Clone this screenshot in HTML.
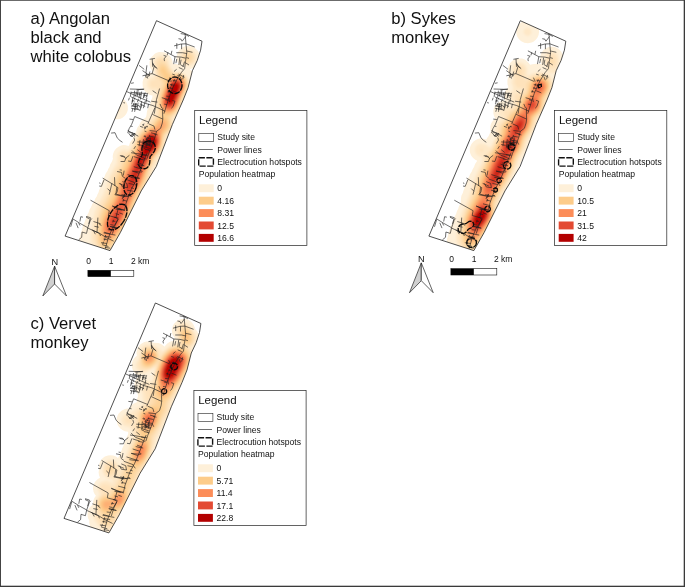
<!DOCTYPE html>
<html lang="en"><head><meta charset="utf-8"><title>Primate population heatmaps and electrocution hotspots</title>
<style>html,body{margin:0;padding:0;background:#fff}svg{display:block}text{font-family:"Liberation Sans", Arial, Helvetica, sans-serif;fill:#111}
.t{font-size:16.62px}.lg{font-size:11.5px}.li{font-size:8.6px}.sb{font-size:8.5px}.n{font-size:9.2px}
</style></head><body>
<svg width="685" height="587" viewBox="0 0 685 587">
<rect x="0" y="0" width="685" height="587" fill="#fff"/>
<defs>
<path id="site" d="M156.5 20.7 L202 41.2 L200.6 50.2 L197.3 60.4 L192.4 70.7 L188.1 87.7 L183.2 100 L172.4 124.5 L156.3 166.5 L141.2 190.9 L120.3 232.6 L110 250.6 L65.1 236.1 Z"/>
<clipPath id="siteclip"><use href="#site"/></clipPath>
<path id="plines" d="M185.1 33.9 L186 44 L186.8 52.7 L185.5 61.5 L184.6 68.7M180.7 33.6 L185.1 34.3 L189 36.5M178.5 38.7 L181.1 39.2 L182 41.2M185.7 36.5 L182.2 41.2M174.1 45.9 L181.1 44 L186 43.8 L194.7 47M176.8 43.1 L176.8 48.8M181.6 44 L181.6 49.2M176.3 52.7 L182.5 52.7 L186.8 53.6M186.8 51 L192.5 52.3M164.1 50.8 L175 56.7 L181.1 57.1 L185.7 58.2M171.9 50.8 L171.1 54.5M168 52.3 L167.1 55.4M163.6 55.4 L166.2 56.2 L164.1 58.9 L164.5 61.1M175 56.7 L173.7 64.1M176.8 58.9 L175.9 63.2M179.8 57.6 L178.9 65M181.1 59.7 L180.3 64.1M184.6 61.5 L182.9 66.8M186.4 57.6 L189 58.4M185.5 62.8 L189 65M149.6 59.3 L154.9 58.4M152.2 58.9 L152.7 66.8M152.7 64.1 L156.6 68.1M184.6 68.7 L181.5 72.3 L176.6 80.2 L173.1 87.2 L170.5 93.4 L167.9 101.2 L165.7 108.2 L163.9 113.7M174 71.5 L176.6 69.3M178.4 74.1 L184.5 77.2M183.7 75 L182.8 79.3M169.6 77.6 L171.4 81.5M172.3 90.7 L177.5 92.9M161.8 97.7 L167.9 99.5M172.3 100.4 L174.9 101.2 L173.1 106.5 L171.4 108.2M168.8 97.7 L169.6 102.1M180.2 64.5 L183.7 66.6M178.8 67.5 L182.8 69.3M174.9 75 L172.3 74.1M180.2 76.7 L181.5 80.2M170.5 81.5 L152.1 73.6M152.1 73.6 L154.3 66.2 L152.6 62.7M154.3 66.2 L157.4 68.8M152.1 73.6 L142.5 75.8M142.5 70.6 L149.9 75.8M146.9 65.3 L146 72.3 L147.7 78.5M139 65.3 L144.2 69.3M149.9 71.5 L148.6 76.7M145.1 75 L146.4 78M159.6 88.5 L156.5 99.5 L154.3 113.7M152.6 90.7 L156.5 93.4M131.1 96.9 L144.2 103 L153 105.6 L165.3 111.3M136.4 89.9 L144.2 89M131.1 92.5 L146.9 93.5M132.9 97.7 L132 102.1M136.4 91.6 L135.5 96.4M139.9 92.5 L139 97.7M144.2 93.4 L143.4 98.2M146.9 97.7 L146 102.6M132.9 103.9 L136.4 104.7M131.1 108.2 L139.9 110M136.4 103 L134.6 111.8M141.6 104.7 L139.9 110.9M148.6 103.9 L147.7 108.2M151.2 101.2 L157.4 102.1M160 103.9 L161.8 108.2M129.8 89 L143.8 89.4M126.8 91.6 L139.9 97.7 L150.4 102.1M131.1 91.6 L130.3 96.9M134.6 90.7 L133.8 97.7M138.1 89.9 L137.3 96M141.6 91.6 L140.3 99.5M145.2 92.5 L143.8 97.7M147.8 92.9 L146 97.7M136 93.8 L141.6 94.7M143.4 95.1 L147.8 96M129.4 97.7 L128.5 100.4M132 100.4 L134.6 101.2M135.5 103 L134.6 110M138.1 102.6 L137.3 108.2M131.1 106.1 L137.3 106.5M132.9 108.2 L132 111.8M139.9 103.9 L145.2 106.5M141.6 101.2 L140.8 108.2M145.2 101.2 L143.4 108.2M131.1 83.3 L133.8 82.8M123.3 102.6 L125 103M154.9 107.7 L151.8 114.7 L148.8 121.7 L147.9 123.9M134.7 116.5 L148.8 122.2M134.7 116.5 L131.7 124.3 L129.1 128.7 L127.7 133.1M129.5 119.1 L133 119.5M130.8 126.1 L132.6 126.5M152.3 114.3 L162.8 119.1 L162.3 123 L160.6 128.3 L156.6 131.3M148.8 123.9 L154 126.1 L154.9 129.6M162.8 107.7 L162.6 113 L162.8 119.1M156.6 131.3 L149.6 130.6M156.6 131.3 L154.9 137.5 L152.3 144.5 L148.8 153.2 L147 158.7M127.7 130.5 L138.3 136.2M128.6 133.1 L131.2 136.6M132.1 132.2 L134.7 136.6M133.9 137.5 L134.7 140.1 L132.6 143.6M137.4 141.9 L153.1 142.7M140 140.1 L139.1 146.2M143.5 139.2 L142.6 147.1M147 138.4 L146.1 147.1M150.5 137.5 L149.6 146.2M137.4 144.5 L141.8 145.4M144.4 144.5 L151.4 146.2M153.1 141 L154.9 144.5M154 134 L157.5 134.9M111.1 133.1 L115 132.7 L117.2 137.9 L119.9 140.5 L122.5 142.3M132.1 150.6 L136.5 155 L143.5 157.6M137.4 149.7 L140.9 152.4M119.9 155.7 L123.4 155.9 L126 158.7M133.9 148.9 L135.6 146.2M147.9 149.7 L150.5 150.6M147.3 152.7 L144.7 158.8 L142.1 165.8 L139 173.7 L135.5 181.6 L131.1 189.5 L128.5 196.5 L125.9 203.7M131.1 152.7 L147.8 155.3M129.4 155.3 L125.9 158 L124.6 161.5 L120.6 161.5M121.1 156.2 L125 157.1M132.9 156.2 L131.1 161.5 L128.1 161M133.8 156.6 L140.8 158.8M138.1 162.8 L142.5 164.5M133.8 166.7 L140.8 168.9M132.5 171.1 L139 173.3M127.6 174.6 L137.3 177.7M125 179 L134.6 182.5M122.4 181.6 L126.8 183.4 L127.6 187.7 L122.4 186.9 L120.6 183.4M118.9 183.4 L125 186M117.1 171.5 L121.5 172.4 L122.4 176.3 L125 178.1M119.7 169.8 L121.9 170.2M124.1 170.7 L123.3 175.5M102.7 178.1 L113.6 184.7 L118 187.7 L117.1 192.1 L114.9 194.7 L125 196.5 L131.1 195.6M104 179.9 L101.4 186.4 L99.2 186M99.2 182.9 L100.5 183.4M114.5 177.2 L114.9 186M111.9 183.4 L109.2 194.7M107.5 188.6 L110.1 191.2M124.6 193.9 L122.4 198.2M133.8 182.5 L136.4 186M131.1 187.7 L133.8 188.6M143.4 158 L146.5 159.3M141.6 165 L144.3 165.8M139.9 170.2 L142.5 171.5M137.3 177.2 L139.9 178.5M126 203.7 L124.6 209.9 L118.9 209M118.1 209 L115.9 217.7 L118.1 219.1 L115 225.6 L112.4 233.7M112.4 205.9 L118.9 209 L125.1 210.7M90.5 200.2 L109.3 210.7 L108.4 215.5 L116.3 217.7M119.4 212.9 L122.9 214.2M115.9 194.1 L124.6 196.3 L122 198.9M116.8 187.1 L115.9 194.1M129 195.4 L131.6 196.3M86.1 216.4 L90.5 217.7 L88.7 223.9M110.2 226.5 L117.6 228.2M112.3 206.2 L121.1 209.3M113.2 226.3 L108.4 237.7 L105.3 248.7M109.7 226.3 L117.2 228.1M103.6 232.9 L115.4 235.1M102.3 244.7 L108.4 246.5M104.9 247.4 L110.2 248.2M118 219.3 L112.8 228.1M72.9 218.9 L79.9 223.3 L87.8 227.7 L90.4 220.2 L91.8 218.5M87.8 227.7 L86.5 233.4 L82.1 232 L81.7 237.3 L78.6 239.9M72.9 219.3 L70.7 226.8M80.8 216.7 L79.9 221.5M80.8 216.7 L83 217.2M86.1 217.2 L89.6 218.9M76 222.8 L78.2 228.1M78.6 222.8 L79.9 225.5M87.8 228.1 L99.6 233.4 L106.6 237.7 L113.7 241.2M97.9 217.6 L97 232.5M93.5 221.5 L100.5 223.7M94.4 226.3 L98.8 227.2M91.8 229.9 L99.6 233.4 L100.5 236M98.8 223.7 L101.4 225.5M93.5 230.7 L95.3 234.2M179.5 76 L177.4 75.4M176.3 81 L172.7 80.2M173.7 81.8 L174.5 79.2M174.2 85.3 L170 84.5M171.2 86.1 L172 83.5M172.7 88.7 L169.4 87.8M169.8 89.3 L170.6 86.7M171.1 92.2 L167.5 91.2M168.1 92.8 L168.9 90.2M169.5 96.5 L166.2 96.1M168.2 100.5 L165.2 99.7M166.9 104.6 L164.1 104.1M155.7 134 L151.1 132.8M154.7 137.2 L148.9 136.1M153.4 141 L148.9 140.6M149.5 142 L150.3 139.4M151.9 145.2 L145.3 143.6M147.3 145.5 L148.1 142.9M149.9 148.5 L143.2 146.5M148.9 150 L145 149.3M146.2 155.5 L142.2 154.8M144.4 160 L139.2 159M142.2 165.6 L136.8 164.2M139.7 171.9 L132.2 171.1M139.7 171.9 L141.8 172.2M137 178.2 L130.5 177.4M137 178.2 L139 178.5M133.8 184.6 L128.6 183.4M130.6 190.8 L127.2 190.2M130.6 190.8 L132.9 191.2M128.5 196.6 L121.5 194.5M124 196.7 L124.8 194.1M126.9 201.1 L122.6 200.1M123 201.6 L123.8 199M125 205.3 L119.2 203.8M125 205.3 L126.7 205.8M122 210 L115.6 209.1M119.1 214.6 L115.6 213.7M117.1 217.8 L114.1 217.3M117.1 217.8 L118.6 218.1M115.4 221.4 L112.3 221M112.8 222.4 L113.6 219.8M113.7 225.2 L110.3 224.6M111.6 230.1 L107.8 229.7M110 233.9 L104.1 232.2M108.8 236.9 L104.8 236.2M104.9 237.6 L105.7 235M108.8 236.9 L111.2 237.2M107.8 239.9 L103.5 239.1M104.3 240.6 L105.1 238M106.8 243.5 L101 242.7M102.7 244.3 L103.5 241.7M146 127.2 L144.6 126.7M146.4 131.7 L144.5 131M144.5 129.3 L145.5 126.9M146.6 127.3 L147.2 125.8M145.8 128.3 L144.1 127.6M143.2 125.7 L144 123.6M143.8 125.2 L142.2 124.6M147.9 126.9 L146.3 126.3M143.2 127.4 L140.1 126.3M133 136.6 L130.3 135.6M132 135.4 L132.7 133.5M134.3 135.6 L131.5 134.5M134 134.9 L134.7 133.1M132 133.2 L128.6 131.9M132.5 136.2 L130.1 135.3M135.5 133.9 L133.6 133.2M147.7 140 L145.7 139.2M146 136.4 L144.3 135.7M149.8 144.9 L148.3 144.3M143.2 146.5 L144.3 143.6M150.8 143.5 L148.8 142.7M149.8 141 L147.4 140.1M148.2 139 L146.1 138.2M148.4 138.8 L149.8 135.1M145.9 137.1 L143.7 136.3M146.3 141.7 L144 140.9M147.5 143.6 L145.5 142.8M149.6 138.3 L146.8 137.3M148.4 144.1 L146.5 143.4M145 148.5 L142.5 147.5M131.5 103.9 L133 100.3M135.3 106.4 L131.6 105M139.5 106 L136.3 104.7M134.2 99.7 L134.9 97.9M139.5 107.3 L140 105.8M137.4 102.1 L138.6 98.8M138.8 109.2 L136 108.1M133.2 105.3 L134.3 102.7" fill="none" stroke="#1e1e1e" stroke-width="0.64" stroke-linecap="butt" stroke-linejoin="miter"/>
<filter id="hb" x="-5%" y="-5%" width="110%" height="110%"><feGaussianBlur stdDeviation="0.9"/></filter>
</defs>
<g id="panel-a">
<text class="t" x="30.5" y="24.1">a) Angolan</text>
<text class="t" x="30.5" y="43">black and</text>
<text class="t" x="30.5" y="61.9">white colobus</text>
<g transform="translate(0 0)">
<g clip-path="url(#siteclip)"><path d="M192.5 46.6 195 48.1 197.9 51 198.9 53 199 53.6 199.3 54 199.5 55.6 199.9 56.5 199.9 58.5 199.5 59.4 199.3 61 199 61.4 198.9 62 197.9 64 195 66.9 193.5 67.9 192.9 68 192.5 68.4 191.4 68.5 191 68.9 189.5 69 191 70.3 193 71.4 194.5 72.5 196.2 74.5 197.1 76.5 197.5 78.5 197.6 80.5 197.1 82.5 196.5 84 195.8 87.5 194.8 90 193.5 92 193.4 93 192.8 94.5 191.5 96.4 190.9 98.5 189.5 101 188.9 103.5 188 105.3 187.3 108.5 186.5 110 185.8 113 184 116.6 183.2 119 181.5 122.2 180.7 127 180 128.9 179.3 132 178.7 133.5 177.9 135 176.7 136.5 175.5 137.6 172.7 139.5 172 140.4 170 145.2 169.8 146.5 169.3 148 168 150 167.3 152.5 166.8 153.5 165.8 155 164.5 156.4 163.3 159 162 160.8 161.2 163 160 164.9 159.4 167 158.7 168.5 157 170.8 155.8 173.5 154.5 175.3 153.9 177 152.5 179.3 152.3 180.5 152 180.9 151.9 181.5 150.9 183.5 150.5 183.9 149.3 187.5 148.4 189 147.5 189.9 146.8 192 145 194.8 144.3 197 143.5 198.3 142.9 201 141.5 203.9 141.3 205.5 141 206 140.8 207 139.5 209.3 139.4 210.5 139 211.3 138.9 212 137.8 214 136.5 215.7 136.4 216.5 135.8 218 134.8 219.5 134 220.4 133.3 222.5 133 222.9 132.8 223.5 131.5 225.3 130.8 227.5 129.5 229.5 128.4 233 127 235.3 126.9 236.5 126.5 237 126.4 237.5 125 240 124.7 241.5 123.5 244 123.3 245.5 122.5 247.5 122 249.5 121.8 251 120.8 253.5 119.8 255 118.5 256.3 117.5 257.2 115.5 258.4 112.5 259.3 109.5 259.3 107 258.7 105 257.8 104 257 102.5 256.8 101.9 256.5 101 256.4 99.5 255.8 98 254.9 97 254 95.5 253.8 93 252.9 89.5 250.5 87.5 250.2 85.5 249.4 83 247.6 81.2 245.5 80.2 243.5 79.6 241 79.5 239 79.7 237 80.5 234.7 81.3 231.5 82 229.6 82.7 226.5 83.2 225 84.5 222.4 85.2 220 86.5 217.5 87.2 215 88.5 212.7 89.6 209.5 91 207.3 92.3 204 94 201.6 95.3 198.5 97 196 97.2 195 98.5 192.6 99.2 190 100 188.4 100.7 185.5 102 182.7 102.9 179.5 103.3 178.5 104.5 176.8 105.7 173.5 107.5 171.1 108.2 169 109.5 167 110.2 164.5 112 161.5 113 158.5 112.7 157.5 112.7 156 113.2 153.5 113.5 153 113.7 152 114.6 150.5 116.2 148.5 118.5 146.7 119.1 146.5 119.5 146.2 121 145.6 123.5 145.1 126 145.2 126.5 145.5 128 145.7 128.5 146 129 145.6 129.1 145 129.5 144.5 129.6 143.5 130 143.1 130.1 142.5 130.5 142.1 130.7 141.5 132.5 139.5 133.6 137 134.5 135.8 135.1 133.5 136 132 136.5 130.5 136.6 129.5 137.7 127 139 125.4 140.7 122 141.9 120.5 144 118.7 145.2 118 146 117 146.5 115.2 146.8 112.5 147.2 110.5 147.8 109 149 107.1 150.5 103.4 150.8 101.5 151 101.1 151.2 100 152 98.6 152.6 95.5 150 94.9 148 93.9 145.7 92 144.1 90 143.1 88 143 87.1 142.7 86.5 142.6 82 143.1 80 144.1 78 146 75.7 148 74.1 149 73.6 149.5 73.5 150 73.1 152.5 72.5 152.5 71.3 151.1 69.5 151 69 150.6 68.5 150.5 68 150.1 67.5 150 66.4 149.6 65.5 149.6 61.5 150.6 58.5 151.6 57 154.5 54.1 156 53.1 159 52.1 163.5 52.2 163.9 52.5 165 52.6 165.5 53 166 53.1 166.5 53.5 167 53.6 168.5 54.7 170.3 56.5 171.3 58 171.5 58.7 171.8 59 172 60.1 172.3 60.5 172.5 62.5 173 64.1 175.5 63.9 178.5 64.5 178.5 63.8 177.7 62.5 177.5 61.7 177.1 61 177 59.9 176.6 59 176.6 57.5 176.6 56 177 55.1 177.1 54 177.5 53.3 177.7 52.5 178.6 51 182 47.6 182.6 47.5 183 47.1 183.6 47 184 46.6 185 46.5 185.5 46.1 191 46.2 191.4 46.5ZM114.5 96.7 118.5 96.7 120.5 97.3 122.5 98.3 124.5 99.9 126.2 102 127.2 104 127.8 106 127.8 110 127.2 112 126.2 114 124.6 116 122.5 117.7 120.5 118.7 118.5 119.3 114.5 119.3 112.5 118.7 110.5 117.7 108.5 116.1 106.8 114 105.8 112 105.2 110 105.2 106 105.8 104 106.8 102 108.4 100 110.5 98.3 112.5 97.3Z" fill="#fef0d9" fill-rule="evenodd"/><g filter="url(#hb)"><path d="M188 49 190 49.2 191.5 49.7 193 50.5 194.2 51.5 195.4 53 196.2 54.5 196.6 56 196.7 57.5 196.6 59 196.2 60.5 195.4 62 194.2 63.5 193 64.5 191.5 65.3 190 65.8 188.5 66 187 65.9 185.5 65.6 184 64.9 182.5 63.8 181.3 62.5 180.4 61 179.9 59.5 179.7 58 179.8 56 180.2 54.5 181 53 182 51.7 183 50.8 184.5 49.8 186 49.3ZM163.5 55.8 166 57.1 167.8 59 168.8 61 169.4 64 170.8 67.5 171.5 68.5 174 71.2 175 71.7 178.5 71.8 182 72.7 183.5 73.4 185 74.4 187.1 76.5 188.1 78 188.8 79.5 190.3 85 190.4 87.5 189.8 90 188.9 92.5 185.7 99.5 183.3 106.5 182.1 109 180.5 111.6 176 115.8 174 118.9 173.6 120.5 173.7 125 173.2 128 172.7 129.5 171.6 131.5 167.3 136.5 166.8 141.5 165.7 145.5 164.8 148 162.8 152 158.5 158.6 156 163.5 155 166 153.5 168.9 151.7 173.5 150.6 177 147.9 183.5 140.8 197.5 136.7 208.5 134.6 213.5 121.4 240 117.5 246.7 114.7 250 113 251.5 110.5 252.9 108 253.6 105.5 253.7 103.5 253.3 99.5 251.7 97 250 92 244 91.1 242.5 90.7 241 90.5 239 91.1 232 91.8 228.5 92.7 220.5 94.7 212 96.9 206 100.8 199 103.2 194 104.9 189.5 107.6 181 109.6 176 114.5 166.5 116.3 163.5 116.5 162.5 116.9 156.5 117.5 154.5 118.2 153 119 151.9 120 151 122 149.9 124.5 149.6 127.5 150.1 129 149.5 130 148.8 130.9 147.5 131.8 145.5 135.5 138.6 138.9 131.5 140.1 129.5 143 125.8 147.8 122 154.6 112.5 154.8 111 154.6 107 154.6 102 154.9 100 156.2 94.5 156.1 92.5 155.5 91.5 151.5 90.7 150 89.9 148.9 89 147.8 87.5 147.1 86 146.9 84.5 146.9 83 147.5 81 148.5 79.4 150.5 77.8 153.5 76.7 154.3 75.5 154.9 74 155.1 72.5 154.6 69.5 154.2 68 153.3 66 153 64 153.2 61.5 154.1 59.5 155.7 57.5 158 56.1 160.5 55.5 162 55.5ZM116 104 117.5 104.1 119 104.8 120 106 120.5 107.5 120.4 109 119.7 110.5 118.5 111.5 117 112 115.5 111.9 114 111.2 113 110 112.5 108.5 112.6 107 113.3 105.5 114.5 104.5Z" fill="#fee8c7" fill-rule="evenodd"/><path d="M186 51 187.5 50.7 189 50.7 191.5 51.5 192.5 52.2 193.5 53.2 194.3 54.5 194.7 55.5 195 58 194.7 59.5 194.3 60.5 192.8 62.5 191.5 63.5 190.5 63.9 189 64.3 187.5 64.3 186.1 64 185 63.5 184 62.9 183 61.9 182.3 61 181.7 59.5 181.4 57 181.7 55.5 182.1 54.5 183.6 52.5 184.5 51.8ZM163 57.7 164.6 58.5 166.1 60 166.7 61 167.6 63.5 170 68.5 173 72.1 174.5 72.7 178 72.7 181 73.3 184 74.8 186.3 77 187.7 79.5 188.2 81.5 188.4 83 188.3 85.5 187.2 90.5 180.4 107 177 112.5 173.8 116 172.6 117.5 172.2 119 172 120.5 172.2 123.5 172.1 126 171.3 129 169.8 131.5 166 135.3 165.2 136.5 164.4 140 163.8 145.5 162.3 150 161.5 151.5 160.5 153 156.6 157.5 154 162.4 152.1 167 150.5 172.2 149.7 175.5 147.7 181 145.2 186.5 139.4 197.5 134.2 211 124.6 231 122 235.8 119.2 240 116.1 244 114.2 247 111.9 249.5 110 250.9 108 251.6 105.5 251.7 103 251.2 101 250.4 99.5 249.5 98 248.2 96.6 246.5 95.3 244 93.5 237.5 94.1 230.5 94.8 225.5 95.7 221.5 99.3 208.5 101.6 203.5 104.6 198.5 107 193.5 108.9 187.5 110.2 182 112 177 115 170.7 116.5 168.5 118.5 166 119 165 119.2 163.5 119.1 160.5 119.6 156.5 120.2 155 121 154 122.5 153 124 152.6 126 152.8 127 152.5 129.5 151 130.5 150 131.9 148 138.3 135 141.3 130 143.5 127.7 151.3 122 154 118.6 157 113.5 157.3 112 157.5 108.5 156.6 104.5 156.4 102 156.8 98 158 93.5 157.8 89.5 157.1 88 156.5 87.6 154.5 88 153.5 88 152.5 87.8 151.5 87.2 150.8 86.5 150.2 85.5 150 84.5 150 83.5 150.5 82 151.5 80.8 153 80.1 155 79.9 155.6 79 156.5 73.5 155.5 66.5 154.9 64 155 62.5 155.5 61 156.1 60 157 59 158.5 58 160.5 57.4 162 57.5Z" fill="#fee2bb" fill-rule="evenodd"/><path d="M187 52.5 189 52.4 190.8 53 191.5 53.5 192.4 54.5 193.2 56 193.4 58 192.7 60 191.5 61.5 189.5 62.5 187.5 62.6 185.5 61.9 184 60.5 183.1 58.5 183.1 56.5 184 54.5 185.5 53.1ZM162.5 59.8 163.7 60.5 164.5 61.4 167.5 65.9 169.3 69.5 172 72.8 173.5 73.4 177.5 73.3 180 73.8 183 75.1 184.3 76 185.3 77 186.8 79.5 187.5 82 187.5 84.5 186.8 88 181.5 100.5 180.8 103 178.8 108 175.8 112.5 171.9 116.5 170.9 118 170.8 119.5 171.2 124.5 171 126.5 170.4 128.5 169.2 130.5 167.4 132.5 165.5 134.3 164.4 136 163.5 139.3 162.6 145.5 161.3 149.5 159.8 152 156 156.3 153.9 159.5 149.9 169 149.3 171 148.6 175 146.9 180.5 144.6 185.5 138.2 197.5 136.3 202 133.1 210.5 128.5 220.5 123.6 230.5 120.5 235.7 117.5 239.4 114.9 243 113.1 246 111.5 247.9 109.5 249.4 107.5 250.1 105.5 250.1 103 249.6 100.5 248.4 98.4 246.5 97.2 244.5 96.5 241.5 96.2 231 96.5 226 97.6 220.5 98.7 216.5 100.7 210.5 102.8 206 106.9 199 109 194.5 110.9 188.5 111.6 185.5 113.3 180 115.8 174.5 118 170.5 120.6 166.5 121.7 163.5 122.4 160 123.5 157.6 123.9 157 125.6 155.5 130.1 152 131.5 150.4 133.6 147 136.7 139.5 138.8 135.5 142.3 130.5 144 128.9 147.2 127 151.5 124 152.5 123.1 157.6 116 158.6 114 158.9 113 159 112 157.9 101 158 99 159.3 93.5 160.5 87 160.9 86 161.9 84.5 162 83.5 161 80.9 160.5 80.3 158.5 78.5 158 77.4 157.8 74 157 69.5 157 63.5 157.2 62.5 157.6 61.5 159 60.1 160.5 59.6 161.5 59.6Z" fill="#fdddae" fill-rule="evenodd"/><path d="M187 54.6 188 54.3 189.2 54.5 190.2 55 191 56 191.3 57 191.2 58.5 190.5 59.7 189.5 60.4 188.5 60.7 187.1 60.5 186.2 60 185.4 59 185.1 58 185.2 56.5 186 55.2ZM162.5 63.2 164.5 64.3 166 65.8 167 67.3 168.5 70.3 171 73.5 172 74 173 74.2 177 74 179.5 74.3 182.4 75.5 184.4 77 185.2 78 186 79.4 186.8 82 186.8 85 186.2 88 184.1 93 182.6 96 181 100.1 180.1 103 177.8 108.5 175 112.2 169.6 117.5 169.5 118.5 170.1 121.5 170.4 124 170.2 126 169.6 128 168.4 130 165 133.6 163.6 136 163.2 137.5 161.9 145 160.4 149.5 159.2 151.5 155.4 156 153 159.8 148.5 170 146.8 177.5 146 180 143.8 185 136.5 198.5 133.5 206.1 132.3 209.5 130 215 125 225.5 122.5 230.3 119.5 235 116.5 238.8 112.5 244.7 111 246.5 109.5 247.7 107.5 248.6 105.5 248.8 103.5 248.4 101.5 247.4 99.8 246 98.8 244.5 98 242 97.8 239 97.9 234.5 98.3 231 98.1 226.5 98.6 222.5 99.1 220 100.4 215.5 102.5 210 104.9 205.5 107.4 201.5 109.9 196.5 111.6 192 114.8 180.5 117 175.5 122.5 166 124 161.4 124.9 159.5 126.5 157 128.8 154.5 131 152.5 132.5 150.7 134.6 147 137.4 139.5 140 134.8 141.5 132.9 144 130.3 153 124.2 157 118.6 159.8 115.5 160.4 114.5 159.2 105.5 159.3 99 160 95.5 162.3 87.5 163.7 84.5 163.7 83.5 162.3 80 159.7 76 158.4 71.5 158.1 68.5 158.5 66.3 159.5 64.3 160 63.7 161 63.2Z" fill="#fdd7a2" fill-rule="evenodd"/><path d="M163 65.5 164 65.9 165.3 67 166 68 167.7 71.5 170.3 74.5 171 74.8 172.5 74.9 177 74.6 179 74.8 181.5 75.7 183.9 77.5 184.7 78.5 185.5 79.9 186.2 82.5 186.3 85 185.7 88 182 96.3 179.2 104 177.2 108.5 175.7 110.5 174 112.3 171 114.9 168.2 117 168 118 169 120.6 169.5 123.5 169.4 125.5 168.9 127.5 167.3 130 164.5 133 163.1 135.5 162.7 137 161.8 143 161.1 146 160.2 148.5 158.8 151 154.7 156 153.5 157.8 152.5 159.7 148 169.6 146.6 174 145.5 178.5 143.3 184 135.4 198.5 131.2 209.5 124.1 225 120.3 232 117.6 236 114.5 240 111.3 244.5 109.5 246 107.5 246.9 106 247.3 104 247 102.5 246.4 100.9 245 99.8 243 99 240.5 98.9 238.5 99.5 229 100.3 221 101.9 215 104 209.9 107 204.6 109.1 201.5 111.9 196 113.4 191.5 115.4 183 117.2 178 119.5 173.3 123.7 166.5 124.9 163 127 158.5 129.8 155 132.5 152.3 134.5 149 135.5 147 137.8 140 140.5 135.2 142 133.4 145.8 130 149 127.7 153.5 125 154 124.5 156.3 121 158.4 118.5 160 117 162 115.5 162.1 115 160.9 111.5 160.1 107.5 159.9 105 159.9 101 160.2 99 161.4 94.5 163.6 88 165 85 165.3 83.5 165.1 82.5 163.5 79.1 160 72.5 159.5 71 159.4 69.5 159.7 67.5 160.5 66.2 161.5 65.5Z" fill="#fdd296" fill-rule="evenodd"/><path d="M162.5 67.8 163.5 68 164.5 69 165.7 72 166.3 73 169.5 75.7 171 75.8 176.5 75.3 178 75.3 180 75.7 182 76.8 183.5 78 184.6 79.5 185.5 81.5 185.9 83.5 185.7 86 185.2 88 181.5 96.5 178.3 105 176.6 108.5 174.5 111.1 170.5 114.2 168.5 115.3 165.5 116.2 165 116.1 163 113.8 162.2 112.5 161.1 109 160.4 105 160.5 101 161.6 96 163.7 90 166 84.3 166.4 83 166.2 81 164.2 77 163.8 74.5 163.2 73.5 161.8 72 161.3 71 161.1 70 161.3 69 162 68ZM165 116.6 167 118.8 168.1 121 168.6 124 168.5 125.5 168.1 127 166.6 129.5 164 132.4 162.9 134.5 162.3 136.5 161.3 143 160.6 146 159.9 148 157.5 152 153.5 157 152 159.7 147.5 169.5 146 173.6 144.8 178 142.4 184 139.2 190 137 193.5 134.8 198 132.6 203.5 131.6 206.5 129.7 211 122.2 227 119.7 231.5 116.7 236 110.8 243.5 109.5 244.6 107.5 245.5 105.5 245.7 103.5 245.2 102 244 101 242.6 100.3 241 100 239.5 100.4 229.5 101.7 221.5 103.3 215.5 105.5 210.1 108.4 205.5 111 202.2 114 196.3 115.8 190 116.6 184 118 179.4 120 175 123.2 169.5 124.9 167 128.1 159 130 156.5 133.5 152.6 136 148 137.2 143.5 138.2 140.5 139.5 138 141 135.5 142.5 133.9 147.5 129.5 154.5 125.2 155.1 124.5 157 121.4 160 118.3 162 117.2Z" fill="#fdcc8a" fill-rule="evenodd"/><path d="M180 76.4 181.5 77.1 183 78.3 184 79.5 184.8 81 185.3 82.5 185.5 84.5 185.2 86.5 184.8 88 180.7 97.5 177.9 105 175.7 109 174.5 110.4 173 111.7 169.5 113.7 167.5 114.3 166.5 114.4 165.5 114.1 164.5 113.6 163.5 112.6 162.8 111.5 161.8 109 161 105.5 160.9 102 162.1 96 164 90.5 167 83.4 167.9 80 168.7 78.5 169.5 77.6 171.5 76.7 176.5 75.8 178.5 75.9ZM164.5 118.5 166 119.6 167 121.1 167.6 123.5 167.6 125.5 166.5 128 165.5 129.5 163.7 131.5 162.2 134.5 161.8 136 161.1 142.5 160.2 146 159.5 148 157 152 153 156.9 150.9 161 146.6 170.5 145.5 173.5 144.5 177 142.6 182 140.4 186.5 136.5 193.1 134.1 198 131.9 203.5 131.1 206 128.6 212 121.8 226.5 119.3 231 115.4 236.5 109.7 243 108.5 243.8 107 244.2 105.5 244.3 104.5 244 103 243 102.1 242 101.5 240.8 101.2 239.5 101.1 234 101.2 231 102.2 223.5 103.9 217.5 106.8 211 112.8 201.5 115 197 116.9 191 117.3 188 119.1 181 121.5 175.1 126.5 167 129.7 159 133 154.9 135.5 150.7 136.6 148 138.6 141 139.8 138.5 141.5 135.9 143.9 133.5 148 129.9 149.5 128.8 153.9 126.5 155.3 125.5 156 124.7 156.9 123 158 121.5 160.5 119.2 161.5 118.6 162.5 118.3 163.5 118.3Z" fill="#fdc282" fill-rule="evenodd"/><path d="M179.5 76.7 181 77.4 182.5 78.5 183.8 80 184.5 81.5 184.9 83 185 85 184.8 86.5 184.2 88.5 180.5 97 177.7 104.5 175.5 108.6 173.5 110.7 171.5 112 170 112.6 168 113.1 166 113 164.4 112 162.7 109.5 161.7 107 161.3 104.5 161.4 102 161.7 99.5 162.4 96.5 164.3 91 167.5 83.5 168.5 80.5 169.1 79.5 170 78.5 172 77.2 174.5 76.6 177 76.3ZM164.3 120 165.5 121 166.1 122 166.6 124 166.4 125.5 165.7 127.5 163.3 130.5 161.7 134 160.8 142 159.5 147 158.8 148.5 156.6 152 152.8 156.5 150.5 161 145.9 171 142.2 181.5 139.7 186.5 135.9 193 133.5 197.9 128.4 211 123.6 221.5 121.1 226.5 118.6 231 116.1 234.5 114 237 111 240.2 108 242.4 106.5 242.8 105 242.5 103.6 241.5 102.8 240 102.2 236.5 102 234 102.1 229 102.8 224 104.2 219 107 212.6 109.4 208.5 111.4 205.5 113.5 202 115 199 116 196.5 117.5 191.7 118.2 188.5 120.2 181.5 122.2 177 128.1 166 129.2 163 130.8 159.5 133.5 155.5 136.1 151 137.5 147 138.9 142 139.9 139.5 141 137.7 142.7 135.5 144.6 133.5 148 130.5 149.5 129.5 154 127.3 156 126 156.9 125 158.5 122.4 159.5 121.4 161 120.3 162.5 119.7 163.5 119.7Z" fill="#fdb97b" fill-rule="evenodd"/><path d="M179.5 77.2 181 77.9 182.5 79.1 183.6 80.5 184.3 82 184.6 83.5 184.6 85.5 183.7 89 180.1 97 177.4 104.5 176.3 106.5 175 108.6 173 110.5 171 111.7 169.5 112.1 168 112.3 166 111.9 164.5 110.8 163 108.8 162.1 106.5 161.7 104 161.9 101 162.9 96.5 164.7 91 169 81 169.5 80 170.5 78.8 172.5 77.6 175 76.9 177.5 76.8ZM163.6 121.5 164.5 122.2 165 123.1 165.3 124.5 165.2 125.5 164.5 127.3 162.8 129.5 161.2 133 161 134.5 160.8 139.5 160.5 142 159.9 144.5 159.1 147 156.1 152 152.4 156.5 150 161 145.4 171 141.6 181.5 139.5 186 135.4 193 133.1 197.5 127.8 211 123 221.5 118.6 230 116.9 232.5 115 234.9 111.5 238.4 110 239.6 108.5 240.3 107 240.7 105.5 240.5 104.4 239.5 103.4 237 103 235 102.7 230.5 102.8 228.5 103.1 226 103.7 223 104.8 219.5 107.5 213.2 110.2 208.5 112.9 204.5 115.6 199.5 117.5 194.5 120.7 182.5 122.7 178 124 175.7 127.4 168.5 128.9 166 130 163 131.9 159 133.9 156 136.5 151.3 139.2 143 140.3 140 141.8 137.5 143.8 135 145.2 133.5 148 131.1 150 129.8 154.5 127.8 156.8 126.5 157.8 125.5 159.4 123 160.5 122 162 121.4 163 121.3Z" fill="#fdaf73" fill-rule="evenodd"/><path d="M179.5 77.6 181 78.4 182.3 79.5 183.4 81 184 82.5 184.3 84 184.3 85.5 183.2 89.5 179.8 97 177 104.5 175 107.9 173 110 171 111.1 168.5 111.6 166.5 111.3 165 110.4 163.4 108.5 162.5 106.5 162.1 104 162.2 101 162.6 99 163.6 95.5 165.2 91 167.2 86 169.3 81.5 170 80.2 171 79.1 173 77.9 175.5 77.2 177.5 77.2ZM163 123.5 163.7 124.5 163.7 125.5 163.3 126.5 161.8 128 160.5 132.5 160.5 138.5 160.3 141 159.8 144 158.8 147 156.1 151.5 152 156.5 149.6 161 148.4 164 145 171 141.3 181 138.9 186 134 194.5 132.5 197.5 127.5 210.3 121 224.5 118.3 229.5 116.2 232.5 114.5 234.6 113 235.9 109.5 238.5 108 238.9 106.5 238.8 105.4 238 104.5 236.5 103.4 230.5 103.4 228.5 104.2 223.5 105.1 220.5 108.1 213.5 110.5 209.4 113.7 204.5 116.3 199.5 118 195 121.2 183 123.2 178.5 129.3 166.5 130.7 163 132.6 159 136.9 151.5 139.5 143.5 140.9 140 142.1 138 144.3 135 145.8 133.5 148.5 131.3 150.5 130.1 153 129.3 156.5 127.8 158.8 126.5 159.4 126 160.1 124.5 161.1 123.5 162 123.2Z" fill="#fca56c" fill-rule="evenodd"/><path d="M179 77.9 180.5 78.6 182 79.8 182.9 81 183.6 82.5 183.9 84 183.9 85.5 183.5 87.5 182.8 89.5 179.5 96.9 176.9 104 175 107.2 173 109.4 171 110.6 170 110.9 168.5 111.1 166.5 110.6 165 109.7 163.7 108 162.9 106 162.5 103.5 162.6 101 163.1 98.5 164.1 95 167.6 86 170 81 171 79.8 172.7 78.5 175 77.7 177 77.5ZM159 128.8 159.5 129.3 159.7 130 159.6 132 160 135.5 160.1 138.5 159.7 143 158.4 147 156 151.1 151.6 156.5 149.5 160.5 148 164 144.6 171 140.8 181 138.4 186 133.4 194.5 131.9 197.5 125.4 214 120.7 224 118.3 228.5 115.5 232.5 114.2 234 113 235 109 237 108 237.2 107 236.9 106.4 236.5 105.8 235.5 104.5 232.1 104.1 230 104.3 226.5 104.8 223.5 105.5 221 107.3 216.5 109 213 110.5 210.5 114.4 204.5 117 199.5 118.7 195 121.1 185.5 122.1 182.5 123.9 178.5 129.8 166.5 132.6 160 137.3 151.5 139.9 143.5 141.5 140 142.3 138.5 144.8 135 146.5 133.3 149 131.4 151 130.5 156.5 129 158 128.8Z" fill="#fc9c64" fill-rule="evenodd"/><path d="M179 78.3 180.4 79 181.5 79.8 182.5 81 183.2 82.5 183.6 85 183.3 87 182.7 89 179.4 96.5 176.5 104 175 106.6 173 108.8 171 110.1 169 110.5 167 110.2 166 109.7 165.1 109 163.9 107.5 163.2 105.5 162.9 103 163 100.5 163.4 98.5 164.4 95 166.3 90 169.3 83 170.5 81.1 171.5 79.9 173 78.8 175 78.1 177 77.9ZM157.2 130.5 158 131.1 158.9 133 159.5 135.2 159.8 138 159.7 140.5 159.4 143 158.9 145 158.1 147 156 150.6 151.2 156.5 149.1 160.5 147.6 164 144.1 171 141.4 178.5 139 183.9 136.5 188.5 132.6 195 131.1 198 125 213.7 120.5 223.5 118 228.1 115 232.2 113 234.1 111.5 234.9 110 235.3 108.5 235.4 107.5 235.1 106.5 234.1 105.8 233 105.2 231.5 104.8 230 104.8 228.5 105.4 223.5 106 221.2 107.9 216.5 109.9 212.5 115.2 204.5 117.8 199.5 119.2 195.5 121.5 186 122.7 182.5 130.1 167 133.1 160 137.5 151.9 138.3 150 140.3 143.5 141.9 140 142.7 138.5 145.3 135 147 133.4 149 131.9 151 130.9 153 130.5 155.5 130.2Z" fill="#fc925d" fill-rule="evenodd"/><path d="M179 78.7 180.5 79.5 181.5 80.4 182.3 81.5 183 83 183.2 84.5 183.1 86 182.7 88 182.2 89.5 179.1 96.5 176.2 104 174.7 106.5 173 108.2 171 109.5 169 110 167 109.6 165.5 108.7 164.2 107 163.5 105 163.2 102 163.5 99.5 164.6 95.5 166.8 89.5 169.7 83 170.7 81.5 172 80 173.5 79 175.5 78.4 177.5 78.3ZM156.5 131.2 157.5 132 158.4 133.5 159.1 135.5 159.4 138 159.4 140.5 159.1 143 158.6 145 157.8 147 156 150.1 150.8 156.5 148.7 160.5 147.4 163.5 143.7 171 141 178.4 138.7 183.5 136.3 188 130.7 197.5 124.5 213.5 120 223.5 118 227.1 116 230.1 113 233.2 111.5 234 110.5 234.3 109 234.3 108.2 234 107 233.1 106.3 232 105.7 230.5 105.6 229 105.6 226 105.9 223.5 107.6 218.5 108.4 216.5 110.8 212 115.9 204.5 118.8 199 119.5 197 120.9 192 122.1 186 123.7 181.5 129.7 169 133.4 160.5 137.9 152 138.9 149.5 140.5 144 142.3 140 143.2 138.5 145.5 135.3 147 133.8 149 132.4 150.5 131.6 152.5 131.1 155 130.9Z" fill="#fa8856" fill-rule="evenodd"/><path d="M178.5 79 180 79.7 181 80.4 181.9 81.5 182.4 82.5 182.8 84 182.8 85.5 182.6 87.5 182.1 89 178.8 96.5 176 103.6 174.6 106 173 107.7 171 109 169.5 109.4 167.5 109.2 166 108.4 165 107.4 164.3 106 163.7 103.5 163.6 101.5 163.8 100 165.3 94.5 169 85 170 83.1 171 81.6 172.7 80 174.5 79 176.5 78.7ZM156 131.9 157 132.5 158 134 158.7 136 159.1 138.5 159.1 141 158.9 143 158.3 145 157.2 147.5 155.5 150.3 150.7 156 148.3 160.5 143.3 171 140.7 178 138.3 183.5 135.8 188 130.2 197 127.7 203 124.2 213 119.5 223.5 116.5 228.5 114 231.3 112.5 232.5 111.5 233 110 233.3 108.8 233 107.5 232 106.9 231 106.6 230 106.3 227 106.5 223.5 108.1 218.5 111.5 212 116.7 204.5 119.6 199 121.5 192.5 122.6 186.5 124.2 181.5 130.2 169 133.6 161 138.3 152 139.3 149.5 140.9 144 143.2 139 145.3 136 147 134.3 148.5 133.1 150.5 132 152 131.6 154 131.4Z" fill="#f67e50" fill-rule="evenodd"/><path d="M178.5 79.4 179.8 80 181 81 181.7 82 182.1 83 182.4 84.5 182.4 86 181.8 89 178.7 96 175.7 103.5 174.5 105.6 173 107.1 171 108.4 169 108.9 167.5 108.6 166 107.7 165.1 106.5 164.2 104 163.9 102 164.1 100 165.3 95.5 167.5 89.5 170 83.7 171 82.2 172 81.1 173.5 79.9 175 79.3 176.5 79ZM155.5 132.4 156.5 133 157.7 134.5 158.2 136 158.8 139 158.8 141 158.6 143 158 145 156.9 147.5 155.4 150 153 153 150.7 155.5 149.7 157 142.8 171 140.5 177.5 138 183.1 135.3 188 129.6 196.5 127.2 202 123.8 212.5 121.5 218 118.9 223.5 116.5 227.6 114.5 229.9 113 231 111 232 110 232.1 109 231.8 108.5 231.4 107.9 230.5 107.1 228 107 226.5 107.2 223.5 108.7 218.5 111.9 212.5 117.7 204.5 120.6 199 122.2 193.5 123.1 187 124.6 182 130.8 169 134 161 138.6 152 139.7 149.5 141 144.5 142.3 141.5 143.6 139 145.3 136.5 147 134.7 148.5 133.5 150.5 132.4 152 132 154 132Z" fill="#f2734a" fill-rule="evenodd"/><path d="M178.5 79.8 179.5 80.3 180.5 81.1 181.2 82 181.7 83 182 84.5 182.1 86 181.9 87.5 181.5 89 178.4 96 176 101.9 175 104.1 174.1 105.5 172.5 107 171 107.8 169 108.3 167.5 108 166.1 107 165.1 105.5 164.4 103.5 164.3 101.5 164.5 99.5 165.6 95.5 167.8 89.5 170.2 84 171 82.7 172.1 81.5 173.5 80.4 175 79.7 176.5 79.4ZM155 132.8 156.5 133.8 157.3 135 157.9 136.5 158.4 139 158.5 141 158.3 143 157.9 144.5 156.6 147.5 155.1 150 149.6 156.5 142.4 171 140 177.5 137.5 183.2 134 189.1 131 193.5 128.8 196 127.8 198.5 126.2 201.5 123.1 212.5 121.2 217.5 118.5 223.3 116 227.2 114.5 229 113 230 112 230.4 110.5 230.7 109.8 230.5 109 229.9 108.5 229.2 108 228 107.7 226.5 107.9 223.5 109.2 219 112.3 213 119 204 121.6 199.5 122.2 196.5 123.1 193.5 123.2 190.5 123.6 187.5 125 182.5 131.3 169 134.5 161 137.9 154.5 140 149.5 141.2 145 142.6 141.5 144.3 138.5 145.5 136.7 147 135.1 148.5 134 150.5 132.9 152 132.5 153.5 132.4Z" fill="#ef6945" fill-rule="evenodd"/><path d="M178.5 80.2 179.5 80.8 180.3 81.5 181 82.5 181.4 83.5 181.7 85 181.8 86.5 181.2 89 178.3 95.5 176 101.2 174 105 172.5 106.5 171 107.3 169.5 107.7 168 107.5 166.5 106.6 165.5 105.2 164.8 103.5 164.6 101.5 164.8 100 165.9 95.5 168.1 89.5 170.5 84 171.5 82.6 172.5 81.6 174 80.5 175.5 80 177 79.9ZM155 133.4 156 134.1 157 135.5 157.7 137.5 158.2 139.5 158.2 141.5 157.9 143.5 156.3 147.5 155 149.6 152.5 152.7 149.8 155.5 148.8 157 141.6 171.5 139.5 177.4 137.3 182.5 134.8 187 130.5 193 127.8 195.5 126.5 198.3 124.6 200.5 124.5 203.5 123.6 206.5 122.6 211.5 120.7 217 118 223 116.5 225.3 114.8 227.5 113.8 228.5 113 229 112 229.4 111 229.4 110 229.1 109 227.9 108.5 226 109 222 109.9 219 113.2 213 116.5 208.7 120.1 204.5 121 203 123.3 200 123.6 196.5 124.2 194 123.9 191.5 124 189.7 124.7 186 125.5 183 127 179.4 129.9 173.5 132.1 168.5 134.7 161.5 138.3 154.5 140 150.7 141.4 145.5 143 141.5 145.6 137 147 135.6 148.5 134.4 150.5 133.3 152 132.9 153.5 132.9Z" fill="#eb5f3f" fill-rule="evenodd"/><path d="M178 80.5 179.7 81.5 180.5 82.5 181 83.5 181.4 86 181 88.6 178.1 95 175.7 101 173.9 104.5 172.5 106 171 106.8 169.5 107.2 168 106.9 167 106.4 165.9 105 165.2 103.5 165 101.5 165.1 100 166.1 96 168.4 89.5 170.9 84 172.5 82 174 81 175.5 80.4 176.5 80.3ZM154.5 133.8 155.6 134.5 156.5 135.7 157.5 138 157.9 140 157.9 141.5 157.6 143.5 156 147.5 154.5 149.8 149.8 155 148.6 156.5 146.1 161.5 144.8 164.5 141.1 171.5 140 174.7 137 182 134 187.2 132.5 189.3 129 193.2 127 194.1 126 194 125.5 193.5 125 192.2 124.8 190.5 125.3 186 126 183.5 127.5 179.7 130.6 173.5 132.7 168.5 135.4 161 138.7 154.5 140.3 151 141.5 146 143.3 141.5 145.6 137.5 146.5 136.4 148 135.1 149.5 134.2 151.5 133.5 153 133.4ZM121 206.5 121.5 206.8 122 208 122 209.3 121.7 211 120.1 216.5 117.8 222 116.2 224.5 113.5 227.5 112.5 228 111.5 228.1 111 228 109.9 227 109.5 225.5 109.8 221.5 110.9 218.5 113.5 213.9 116.5 210.1 119 207.6 120.5 206.6Z" fill="#e75439" fill-rule="evenodd"/><path d="M178 81 179.5 82 180.3 83 180.7 84 181.1 86.5 180.5 89 178.2 94 175.5 100.8 173.5 104.4 172.5 105.5 171 106.3 169.5 106.6 168 106.4 167 105.7 166 104.3 165.4 102.5 165.4 101 166.4 96 168.8 89.5 170.9 84.5 172.5 82.4 174 81.4 175.5 80.8 177 80.7ZM154.5 134.4 155.5 135.2 156.5 136.6 157.3 138.5 157.6 140 157.6 141.5 157.3 143.5 155.7 147.5 154 150 149.3 155 148.1 156.5 145.5 161.5 144.5 164 140.4 171.5 139.5 174.5 136.4 182 133 187.5 131.8 189 129 191.6 128 192.1 127 192 126.5 191.6 126.1 191 126 190 126 186.5 126.4 184.5 127.8 180.5 131.3 173.5 133.3 168.5 135.8 161 139.2 154.5 140.5 151.5 141 150 141.9 146 143.3 142 146 137.5 148 135.5 149.5 134.6 151.5 134 153 133.9ZM119.5 210 120 211 119.9 214 118.4 218.5 116.9 222 116 223.5 114.5 225 112.5 226.3 111.5 226.3 110.9 225.5 110.6 223 110.7 221.5 111.4 219.5 113.5 215.5 117 211.2 118 210.5Z" fill="#e34a33" fill-rule="evenodd"/><path d="M178 81.5 179.5 82.6 180.5 84.5 180.7 86.5 180.3 88.5 175 101 173.3 104 172.4 105 171 105.8 169.5 106.1 168.5 106 167.5 105.4 166.5 104.3 165.9 103 165.7 101.5 166.5 96.9 169 89.8 171 85 172.5 82.9 174 81.8 175.5 81.3 177 81.2ZM154 134.7 155 135.4 156 136.6 156.7 138 157.3 140 157.3 141.5 157 143.5 155.5 147.3 154.8 148.5 153.5 150.1 148.7 155 147.5 156.5 145 161.5 144 164 142.4 166.5 141.1 169 139.9 171 139 174 137.8 176.5 137 179 135.6 182 134.5 184 132.1 187.5 131 188.6 129.5 189.5 128.5 189.7 128 189.7 127.5 189.2 127.2 188.5 126.8 186.5 127 185 128.2 181.5 130.8 176 132.2 173.5 132.9 171 134.1 168.5 134.8 165.5 136.5 160.5 139.6 154.5 141 151.5 142.1 146.5 143.6 142 146 138 148 135.9 149.5 135 151 134.5 152.5 134.4ZM118 213.7 118.2 214.5 117.5 218 117 219.4 115 223 114 223.8 113 224.1 112.5 224 111.9 223 111.8 221.5 112.1 220.5 113.5 217.5 114.9 215.5 116.5 214 117.5 213.5Z" fill="#dc3f2b" fill-rule="evenodd"/><path d="M177.5 81.8 179 82.7 180.1 84.5 180.4 86.5 180 88.5 175.8 98 174.9 100.5 173 103.6 172 104.7 171 105.3 169.5 105.6 168.5 105.4 167.5 104.7 166.6 103.5 166.3 102.5 166.2 101 167 96.5 169.3 90 171.4 85 172.5 83.4 173.5 82.6 175 81.8 176.5 81.6ZM154 135.3 155 136 156 137.3 156.7 139 157 140.5 157 142 156.7 143.5 155.3 147 154.5 148.5 153 150.3 147.3 156 145.8 159 144.4 161.5 143.5 164 141.7 166.5 140.5 168.8 139 171 138.4 173.5 137 176 136.2 179 134.2 183 131 187 130 187.7 129 187.7 128.3 187 128 186 129 181.5 131.5 176.3 132.9 174 133.7 171 135 168.5 135.3 166 136.8 161 141.3 152 142.4 146.5 143.9 142 146.5 137.8 148.5 136 150 135.2 151.5 134.9 153 134.9Z" fill="#d43323" fill-rule="evenodd"/><path d="M177.5 82.3 178.5 82.9 179.1 83.5 179.6 84.5 179.9 85.5 179.9 87.5 179 90 177.3 93.5 174.5 100.4 173.5 102.1 172.1 104 171 104.7 169.5 105 168.5 104.7 167.5 104 166.8 102.5 166.6 101.5 166.8 99 167.5 96.1 170.4 88 172 84.6 173 83.4 174 82.7 175 82.3 176.5 82.1ZM153.5 135.6 154.5 136.2 155.5 137.3 156.2 138.5 156.6 140 156.7 141.5 156.5 143 155.3 146.5 154.5 148 153 149.8 148 154.5 146.6 156 145.5 158.5 144 161 142.8 164 141.2 166 139.7 168.5 137.9 170.5 137.5 173 137 174 135.7 175.5 135.3 178.5 134.1 180.5 133.3 182.5 132 184 131 184.5 130.5 184.5 130 184 129.9 183.5 130.2 181.5 132.5 176.8 134.1 174.5 134.7 171.5 136 169 136 166.3 137 162 137.6 160.5 138.8 158.5 141.7 152.5 142.1 150.5 142.6 147 144 142.5 146.3 138.5 148 136.7 149.5 135.8 151 135.3 152.5 135.3Z" fill="#cd281b" fill-rule="evenodd"/><path d="M177.5 82.8 178.9 84 179.5 85.5 179.5 87.5 178.6 90 177.1 93 174.2 100 173.5 101.4 172 103.2 171.1 104 170 104.4 169 104.3 168 103.6 167.4 102.5 167.2 101.5 167.2 99 167.8 96.5 170.8 88 172.2 85 173.5 83.5 174.5 82.9 175.5 82.6 176.5 82.6ZM153.5 136.1 154.5 136.7 155.5 138 156 139 156.3 140.5 156.2 143 155.6 145 154.7 147 154 148.2 152.4 150 146.1 155.5 144.8 158.5 143.3 161 142.6 163 142 164.1 140.5 165.5 139 167.5 138 167.9 137.5 167.6 137.2 167 137.1 166 137.9 161.5 138.5 160.1 139.6 158.5 140.5 156.3 142.2 153 143 147 143.7 144 144.5 142 146.7 138.5 148.5 136.7 149.5 136.2 151 135.7 152.5 135.8Z" fill="#c51c14" fill-rule="evenodd"/><path d="M177 83.2 178 83.7 178.5 84.3 179.1 86 179.1 87.5 178.2 90 176.7 93 175.9 95 174.5 98 174 99.5 173.2 101 171 103.3 170 103.6 169 103.5 168.4 103 167.9 102 167.7 100 167.7 98.5 168 97 171 88.5 172.5 85.3 173.5 84 175 83.2 176 83ZM153.5 136.5 154.5 137.3 155.1 138 155.6 139 156 140.6 155.9 143 155.3 145 154.5 146.7 153.5 148.3 152 150 145.4 155 145.1 155.5 144.1 158 142.5 160.5 142 162.4 141.5 163.2 140.7 164 140 164.4 139.5 164.5 139 164.2 138.5 163 138.7 161.5 139.2 160.5 140.4 159 141.3 156.5 142.8 154 142.9 153.5 143.3 147 144 144 144.8 142 147 138.6 148.7 137 150 136.4 151 136.1 152.5 136.2Z" fill="#be110c" fill-rule="evenodd"/><path d="M177 83.8 178 84.5 178.7 86 178.6 87.5 177.8 90 176.2 93 175.5 95 174.1 97.5 173.5 99.5 173 100.4 172 101.6 171 102.3 170 102.7 169.5 102.6 169 102.3 168.5 101.4 168.2 100 168.2 98.5 169.8 93 171.5 88.4 173 85.3 174 84.2 175.5 83.6ZM153.5 137 154.5 137.9 155 138.6 155.5 139.8 155.7 141 155.6 142.5 155.3 144 154 147 152.5 149.1 150.5 150.8 146.5 153.2 145.5 153.5 144.5 153.4 144 152.7 143.7 151.5 143.6 148 144.2 144.5 145.4 141.5 147.4 138.5 149 137.2 150 136.7 151.5 136.5 152.5 136.6Z" fill="#b70604" fill-rule="evenodd"/></g></g>
<use href="#plines"/>
<use href="#site" fill="none" stroke="#141414" stroke-width="0.75"/>
<path d="M182.0 85.3 L181.9 86.6 L181.6 87.9 L181.2 89.1 L180.6 90.2 L179.9 91.2 L179.0 92.0 L178.1 92.7 L177.0 93.2 L175.9 93.5 L174.8 93.6 L173.7 93.5 L172.6 93.2 L171.5 92.7 L170.6 92.0 L169.7 91.2 L169.0 90.2 L168.4 89.1 L168.0 87.9 L167.7 86.6 L167.6 85.3 L167.7 84.0 L168.0 82.7 L168.4 81.5 L169.0 80.4 L169.7 79.4 L170.6 78.6 L171.5 77.9 L172.6 77.4 L173.7 77.1 L174.8 77.0 L175.9 77.1 L177.0 77.4 L178.1 77.9 L179.0 78.6 L179.9 79.4 L180.6 80.4 L181.2 81.5 L181.6 82.7 L181.9 84.0 Z" fill="none" stroke="#0a0a0a" stroke-width="1.35" stroke-dasharray="5.8 1"/>
<path d="M147.7 141.1 L146.7 141.3 L145.9 141.6 L145.1 142.1 L144.4 142.6 L143.7 143.3 L143.2 144.0 L142.7 144.8 L142.4 145.6 L142.2 146.7 L142.0 147.8 L141.9 149.1 L142.0 150.3 L142.1 151.6 L142.3 152.6 L142.4 153.6 L142.3 154.6 L141.9 155.5 L141.4 156.3 L140.9 157.0 L140.4 157.7 L139.9 158.5 L139.5 159.3 L139.1 160.1 L138.8 161.1 L138.5 162.1 L138.4 163.3 L138.6 164.6 L138.9 165.5 L139.4 166.3 L139.9 167.0 L140.6 167.6 L141.4 168.1 L142.2 168.4 L143.2 168.6 L144.4 168.7 L145.4 168.5 L146.4 168.1 L147.2 167.6 L147.8 167.1 L148.4 166.4 L148.8 165.6 L149.2 164.8 L149.5 163.8 L149.7 162.8 L149.8 161.6 L149.9 160.3 L149.9 159.1 L149.9 157.8 L150.1 156.8 L150.5 156.1 L151.2 155.4 L151.7 154.8 L152.3 154.1 L152.9 153.4 L153.4 152.7 L153.9 152.0 L154.4 151.1 L154.7 150.3 L155.1 149.3 L155.3 148.3 L155.3 147.1 L155.1 146.1 L154.8 145.1 L154.4 144.3 L153.9 143.5 L153.3 142.8 L152.7 142.3 L151.9 141.8 L150.9 141.4 L149.9 141.1 L148.9 141.0 L147.7 141.1 Z" fill="none" stroke="#0a0a0a" stroke-width="1.35" stroke-dasharray="5.8 1"/>
<path d="M136.3 186.8 L135.9 188.3 L135.3 189.7 L134.6 191.0 L133.8 192.2 L132.9 193.2 L131.9 194.0 L130.9 194.5 L129.9 194.9 L128.9 195.0 L127.9 194.9 L127.0 194.6 L126.2 194.0 L125.4 193.2 L124.8 192.2 L124.4 191.0 L124.0 189.7 L123.9 188.3 L123.8 186.8 L124.0 185.3 L124.3 183.8 L124.7 182.3 L125.3 180.9 L126.0 179.6 L126.8 178.4 L127.7 177.4 L128.7 176.6 L129.7 176.1 L130.7 175.7 L131.7 175.6 L132.7 175.7 L133.6 176.0 L134.4 176.6 L135.2 177.4 L135.8 178.4 L136.2 179.6 L136.6 180.9 L136.7 182.3 L136.8 183.8 L136.6 185.3 Z" fill="none" stroke="#0a0a0a" stroke-width="1.35" stroke-dasharray="5.8 1"/>
<path d="M123.9 220.8 L122.7 222.7 L121.3 224.5 L119.9 226.0 L118.4 227.3 L116.9 228.4 L115.4 229.2 L113.9 229.7 L112.5 229.9 L111.2 229.7 L110.1 229.3 L109.1 228.5 L108.4 227.5 L107.8 226.2 L107.5 224.7 L107.5 223.0 L107.6 221.1 L108.0 219.2 L108.7 217.1 L109.5 215.1 L110.5 213.2 L111.7 211.3 L113.1 209.5 L114.5 208.0 L116.0 206.7 L117.5 205.6 L119.0 204.8 L120.5 204.3 L121.9 204.1 L123.2 204.3 L124.3 204.7 L125.3 205.5 L126.0 206.5 L126.6 207.8 L126.9 209.3 L126.9 211.0 L126.8 212.9 L126.4 214.8 L125.7 216.9 L124.9 218.9 Z" fill="none" stroke="#0a0a0a" stroke-width="1.35" stroke-dasharray="5.8 1"/>
</g>
<g transform="translate(0 0)">
<rect x="194.7" y="110.6" width="112.2" height="135" fill="#fff" stroke="#222" stroke-width="0.7"/>
<text class="lg" x="199" y="123.8">Legend</text>
<rect x="198.8" y="133.6" width="14.9" height="7.8" fill="#fff" stroke="#222" stroke-width="0.6"/>
<text class="li" x="217.3" y="140.3">Study site</text>
<line x1="198.8" y1="149.5" x2="212.8" y2="149.5" stroke="#4a4a4a" stroke-width="0.8"/>
<text class="li" x="217.3" y="152.5">Power lines</text>
<rect x="198.7" y="157.8" width="14.7" height="8.3" fill="#fff" stroke="#111" stroke-width="1.4" stroke-dasharray="6.2 1.47"/>
<text class="li" x="217.3" y="164.9">Electrocution hotspots</text>
<text class="li" x="198.8" y="176.9">Population heatmap</text>
<rect x="198.8" y="184.3" width="14.9" height="7.9" fill="#fef0d9"/>
<text class="li" x="217.3" y="191.3">0</text>
<rect x="198.8" y="196.7" width="14.9" height="7.9" fill="#fdcc8a"/>
<text class="li" x="217.3" y="203.7">4.16</text>
<rect x="198.8" y="209.1" width="14.9" height="7.9" fill="#fc8d59"/>
<text class="li" x="217.3" y="216.1">8.31</text>
<rect x="198.8" y="221.5" width="14.9" height="7.9" fill="#e34a33"/>
<text class="li" x="217.3" y="228.5">12.5</text>
<rect x="198.8" y="233.9" width="14.9" height="7.9" fill="#b30000"/>
<text class="li" x="217.3" y="240.9">16.6</text>
</g>
<g transform="translate(0 0)">
<text class="n" x="54.7" y="264.9" text-anchor="middle">N</text>
<path d="M54.6 266.2 L42.8 296 L54.6 284 Z" fill="#d0d0d0" stroke="#222" stroke-width="0.7" stroke-linejoin="miter"/>
<path d="M54.6 266.2 L66.5 296 L54.6 284 Z" fill="#fff" stroke="#222" stroke-width="0.7" stroke-linejoin="miter"/>
</g>
<g transform="translate(0 0)">
<rect x="87.9" y="270.3" width="45.9" height="6.3" fill="#fff" stroke="#111" stroke-width="0.6"/>
<rect x="87.9" y="270.3" width="22.9" height="6.3" fill="#000"/>
<text class="sb" x="88.5" y="263.9" text-anchor="middle">0</text>
<text class="sb" x="111" y="263.9" text-anchor="middle">1</text>
<text class="sb" x="131" y="263.9">2 km</text>
</g>
</g>
<g id="panel-b">
<text class="t" x="391.2" y="24.1">b) Sykes</text>
<text class="t" x="391.2" y="43">monkey</text>
<g transform="translate(363.8 0)">
<g clip-path="url(#siteclip)"><path d="M163.5 20.4 166.5 20.7 168 21.2 170 22.2 171.5 23.4 173.3 25.5 174.2 27 174.8 28.5 175.3 31.5 174.8 35 173.7 37.5 172.2 39.5 170 41.4 168.5 42.2 167 42.8 164 43.3 160.5 42.8 157.5 41.3 156 40.1 154.2 38 153.2 36 152.7 34.5 152.4 32 152.7 29 153.2 27.5 154.3 25.5 155.5 24 157.5 22.3 159.5 21.2 161 20.7ZM191.5 47.2 194.5 48.7 197.3 51.5 198.9 54.5 199 55.5 199.4 56.5 199.4 59.5 199.3 60.5 199 60.9 198.9 62 199.9 65 199.9 69 198.9 72 196.5 75.5 196.9 77 197.1 79 196.7 82 196.1 83.5 195 85.6 194.8 87 194.2 88.5 192.5 91.4 192.4 92.5 192 93 191.7 94 190.5 95.9 190 96.9 189.8 98 188.5 100.4 187.7 103 187 104.4 186.8 106 186.3 108 185.3 110 184.5 111.1 184.4 112 184 112.6 183.8 113.5 182.3 116 180.4 118 179.3 120 176.5 122.7 175.5 124 175.4 124.5 175 125 174.8 126 174.5 126.5 174.3 129.5 174 129.8 173.9 130.5 173.3 132 171.9 134 170 135.8 169 136.4 168 137.9 167.5 139.2 167.3 140.5 166 143.2 165.9 144.5 165.4 146 164 148.4 163.9 149.5 163.5 150.3 163.4 151 163 151.5 162.9 152 162.3 153 160.5 155 159.8 157 158.5 158.8 157.9 161 156.5 163.5 156.4 164.5 155.9 166 155 167.5 154.5 169 154.4 170 153.8 171.5 152.5 173.9 152.4 175 152 175.6 151.8 176.5 149.5 179.8 148.9 181.5 147.5 183.5 147.4 184.5 147 185 146.8 186 144.5 189.4 143.8 191.5 142 194.3 141.7 195.5 140.5 197.9 140.3 199.5 139 202.1 138.2 205 137 207.4 136.8 209 136.5 210 136.4 214.5 135.9 216.5 134.9 218.5 134.5 218.9 134 220.1 133.8 221.5 133.5 221.9 133.4 222.5 132 224.9 131.9 226 131.5 226.7 131.4 227.5 130 229.8 129.5 231 129.4 232 127.5 235.4 127.4 236.5 126.8 238 125.5 240 124.8 242.5 124 243.9 123.3 247 122.5 248.7 122.3 250.5 121.4 253 119.7 255.5 118.5 256.7 117 257.8 115 258.8 113.5 259.3 110 259.4 108.5 259.2 107 258.7 104.8 257.5 103.5 257 102 256.8 100 255.9 98 254.5 96.5 254.3 95 253.7 92.2 252 89 250.8 86.5 249 85.1 247.5 84.2 246 83.6 244.5 83.1 242.5 83 240.5 83.3 238.5 84 236.4 84.7 233 86 229.5 86.3 228 86.8 226.5 88 224.3 88.9 221.5 90 219.5 90.7 217 92.5 213.5 92.7 212.5 93.2 211 94.5 208.8 94.7 207.5 95.3 206 96.5 204 97 202.5 97.2 198 97.7 195.5 99 193.1 99.7 190.5 101 187.5 101.2 186 102.5 183.2 103.2 180.5 103.8 179 105.5 176.2 106.3 174 108 171.5 108.7 169.5 110.5 166.5 110.7 165.5 111.3 164 113.3 161 113.1 160.5 111.5 159.8 109.3 158 107.7 156 106.7 154 106.1 152 106 150 106.1 148 106.7 146 107.7 144 109.5 141.8 111.5 140.2 113.5 139.2 115.5 138.6 118.5 138.6 120 138.7 120.5 139 121.5 139.2 121.9 139.5 122.5 139.5 123.3 138 124.5 136.6 127 131.5 126.6 130 126.6 126 127.2 124 128.2 122 129.4 120.5 131.5 118.5 130.2 116 129.6 113.5 129.6 110 130.6 107 131.2 106 132.8 104 135 102.2 137 101.2 138.1 101 138.5 100.7 141.5 100.5 141.2 100 140.6 98 140.6 95.5 140.7 93.5 141 93.1 141.2 92 142.2 90 144.5 87.4 144.6 87 143.7 84.5 143.6 81 143.7 79.5 144 78.9 144.1 78 145.5 75.5 145 73.9 144.6 73.5 144.1 70.5 144.1 68.5 144.5 67.6 144.6 66.5 145 65.8 145.2 65 145.7 64 147.3 62 149.5 60.1 152.5 58.7 155.5 58.4 158.5 58.6 159.2 59 160 59.1 162 60.2 165.4 63.5 166 64.6 166.5 64.8 168.5 64.2 172.5 63.7 175 63.8 177 64.1 177.5 63.8 177.5 63.5 177.5 62.9 177.1 62.5 176.6 60.5 176.4 58 176.6 55.5 177 54.8 177.1 54 178.2 52 179.4 50.5 181.5 48.6 183 47.7 183.9 47.5 184.5 47.1 185.7 47 186.5 46.7 189.5 46.7 190.1 47Z" fill="#fef0d9" fill-rule="evenodd"/><g filter="url(#hb)"><path d="M162 28.2 163.5 27.7 165 27.9 166.5 28.8 167.4 30 167.9 31.5 167.7 33 166.8 34.5 165.5 35.5 164 35.9 162.5 35.6 161 34.7 160.1 33.5 159.7 32 159.9 30.5 160.9 29ZM187.5 51.1 189.5 51.2 191 51.8 192.5 52.7 193.5 53.8 194.3 55 194.8 56.5 195.3 61 195 65 194.2 68.5 193.6 70 192.5 71.4 191 72.4 189.5 73 188 73.3 187 73.2 185.5 72.7 184 71.6 183.2 70.5 181.3 64 180.8 60 180.8 58 181 56.5 181.5 55 182.1 54 183 53 184.5 51.9 186 51.3ZM157.5 62.5 159 63 160.6 64 161.9 65.5 162.8 67 163.3 68.5 163.6 70 163.2 74.5 163.5 75.6 164 75.7 164.5 75.6 167 74.2 168.5 73.6 175 72.3 177.5 72.4 183 73.2 184 73.5 185 74.2 186 75.4 187.7 78.5 189.3 82.5 189.8 84.5 190 86 189.6 89 188.1 93 186.5 96 184.4 99.5 183 103.9 182.3 108 181.4 110.5 180.2 112.5 179.1 114 174.7 118.5 173.7 120 173 121.6 171.7 126.5 170.7 129 168.3 133 165.2 137.5 163.2 141.5 161.1 148.5 159.1 152.5 155.9 157.5 154 162.1 149.9 173 144.7 183 139.7 192 135.2 201.5 133.8 206 133.3 211 132.2 217.5 129.7 224 126.3 231 118.5 245.9 117.5 247.4 114.9 250.5 113 252 110.5 253.1 107.5 253.5 105 253.2 102.5 252.3 100.1 251 98.1 249.5 96.3 247.5 93.7 244 92.9 242.5 92.4 240 92.3 237 92.8 232 94.3 225 95.9 218.5 97.6 213 105.5 194.5 106.5 191.7 109.2 182 111.3 176.5 113.7 171 116 166.5 117.5 164 118.6 161 118.6 159 117.8 157.5 117 156.7 114 155.4 112.9 154.5 112 153.3 111.2 151 111.3 148.5 111.8 147 113 145.4 114.5 144.3 116.5 143.7 118.5 143.7 120 144.1 123 145.6 125.5 147.2 126.5 147.1 127.5 145.9 132.1 136.5 132.3 134.5 131.6 131.5 131.4 129 131.5 127.5 131.8 126 133 123.6 134 122.5 135.7 121 136.4 120 136.8 119 136.9 118 136.7 117 135.4 114 135.1 112.5 135.2 111 135.7 109.5 137 107.7 139 106.4 140.5 106 142 105.8 143.5 105.9 146 106.5 147 106.4 148 106.1 148.5 105.7 149.2 104.5 149 103 147.6 101 146.7 99 146.2 97.5 146.1 96 146.3 94.5 146.7 93.5 147.5 92.2 148.7 91 149.2 89.5 149.1 87 148 83.5 147.8 82 148 80.5 148.7 78.5 148.9 77 148.8 74 148.1 70.5 148.1 69 148.4 67.5 149.1 66 149.8 65 150.8 64 152 63.2 154.5 62.4 156 62.3Z" fill="#fee8c7" fill-rule="evenodd"/><path d="M187.5 54.2 188.5 54.2 189.5 54.5 191 55.6 192.5 58.1 192.9 59.5 193.2 61 192.9 63.5 192 65.7 190.5 67.3 189.5 67.8 188.5 68 187.5 67.9 186.5 67.6 185 66.4 184 65 183.6 64 183.1 61.5 183.1 60 183.4 58.5 184.5 56 185 55.4 186 54.6ZM157 64.9 158.4 65.5 159.5 66.4 160.3 67.5 160.9 69 161 70.5 160.5 73 160.2 77.5 160.2 78.5 160.7 79.5 161.5 79.8 163 79.4 164.7 78.5 167.5 76.4 171 74.9 173.5 74.1 175.5 73.8 177.5 73.8 181.5 74.8 183.5 75.8 184.8 77 186.3 79 187.2 81 187.7 83 187.9 85 187.3 90 186.3 92.5 183 97.8 182 100 181.4 102 180.8 107 179.5 110.4 178.1 112.5 174 116.6 171.8 119.5 170.8 124.5 170 126.8 167.9 131 164 137 162 140.7 161.5 142 160.7 145.5 159.3 149.5 158.2 151.5 154.5 157.5 152.8 161.5 149.9 169.5 147.7 174.5 142.5 184.5 138.3 191.5 133.5 201 132.5 204 132.2 205.5 131.5 214 131.1 217 129.9 220.5 127.5 226 125 230.7 122 235.9 117 243.7 115.7 246 114.2 248 112 250 110 250.9 107.5 251.2 104.5 250.8 103 250.2 101.5 249.3 99.5 247.8 98.3 246.5 96.8 244 94.9 238.5 94.8 236 95.1 231.5 95.9 227.5 97.3 222 100.3 212.5 101.7 209 103.5 205.4 106.4 197.5 108.1 193.5 110.2 185.5 112.2 180 116.7 170 119 165.7 120.5 162 121.4 159 121.7 155 122 154 122.4 153.5 125 151.8 127 149.8 128 148.4 133.6 136.5 134.3 133.5 134.4 128.5 134.9 126.5 136.2 124.5 140.5 119.4 141.5 117.9 141.7 116.5 141.5 115.9 140.5 114.5 140.2 113.5 140.1 112.5 140.4 111.5 141.5 110.6 144 110.3 147.5 108.8 150 107.5 151 106.7 151.6 105.5 151.9 102 151.5 99.9 150.7 98.5 150.4 97.5 150.4 96.5 150.7 95.5 151.5 94.5 152.3 94 154.9 93.5 157.2 92.5 158.4 91.5 159.3 90 159.3 89 158 88 156.5 87.7 155 88 154 87.7 153 86.6 151.5 84.1 151 82.5 151 81.5 151.4 79.5 150.9 72.5 150.5 70 150.9 68 152 66.3 153.5 65.2 155 64.8ZM116.3 149 116.9 148.5 117.5 148.4 118.5 148.7 119.5 149.8 119.7 150.5 119.6 151 119 151.5 118.5 151.6 117.5 151.6 116.5 151.2 116 150.6 115.9 150Z" fill="#fee2bb" fill-rule="evenodd"/><path d="M187.5 58.7 188.5 58.7 189.2 59 190 59.9 190.3 61 190.3 62 190 63.1 189.5 63.7 188.5 64.2 187.5 64.1 187 63.8 186.3 63 185.9 62 185.9 61 186.1 60 186.5 59.4ZM156 68.3 156.5 68.5 157 69 157.3 70 156.9 71.5 156.8 74.5 156.6 75.5 156 76.4 155.5 76.5 154.8 76 154.3 75 154.2 73.5 154.4 71.5 154.1 70 154.5 68.8 155 68.5ZM181 75.9 182.8 77 184.4 78.5 185.5 80 186.3 82 186.7 84 186.7 86 186.3 88.5 185.7 90.5 184.7 92.5 182.5 96.1 180.5 100 179.6 106 178.3 109.5 176.8 112 172 117 170.6 119 170.3 120 169.3 125 167.6 129 161 140 160.4 141.5 159.6 145 158.3 149 155.7 153.5 153.2 157.5 151.6 161.5 148.9 169 146.7 174 141.4 184 136.6 192 133.5 197.8 131.6 202 131 204 130.7 206.5 130.6 215 129.9 218 129 220.5 126.6 225.5 123.8 230.5 113.5 246.6 111.5 248.3 110 249.1 109 249.4 106.5 249.6 104 248.9 101.5 247.4 100.4 246.5 99.2 245 97.9 242 97.2 238.5 96.8 233.5 97 230.5 97.7 226 99.9 217.5 101.7 212 104.9 205 110 192.8 111.2 187.5 112.2 184 115.8 175 119.9 166.5 124.1 156 125.7 153.5 128 150.5 130.5 145.9 134.7 136.5 135.6 133 136.4 128.5 137.2 126 138.4 124 140.8 121.5 142.3 119.5 143.8 116.5 144.8 114 145.8 112.5 147 111.4 151.5 108.5 152.8 107 153.5 105.5 154.2 99.5 154.8 98 155.4 97 156.5 95.8 160.9 93 161.8 92 162.4 90.5 162.6 89 162.5 88 162 86 162 85 162.2 84 163.1 82.5 164.1 81.5 168.9 77.5 170.5 76.5 172 75.8 174.5 75.1 176.5 75 179 75.2Z" fill="#fdddae" fill-rule="evenodd"/><path d="M180.5 76.8 182 77.7 183.5 79.1 184.6 80.5 185.4 82 185.8 83.5 185.9 85.5 185.7 87.5 185.1 89.5 183.8 92.5 181.3 96.5 180 99.1 179.6 100.5 178.5 106.5 177.6 109 176.8 110.5 175.3 112.5 171.3 116.5 170 118.1 169.5 119.5 168.1 125 166.9 128.5 165.9 130.5 162 136 160.5 138.7 159.5 141.3 157.2 149 152.1 157.5 148 168.5 145.9 173.5 140.5 183.5 135.1 192.5 132.5 197.5 130.7 201.5 130.2 203 129.7 206.5 130 212.5 129.9 214.5 129.2 218 128.5 220 122.9 230 115 242.5 113 245.2 111 246.9 108.5 247.9 106.5 248 104.4 247.5 102.5 246.3 100.9 244.5 99.7 242.5 98.8 239.5 98.5 234.5 98.7 228 99 225.9 100.4 219.5 102.8 212 107.9 201 109.8 197.5 111.2 194 111.8 191.5 113.3 184.5 115.9 177.5 118 172.5 121.2 166 122.5 162.4 124.6 157.5 126.3 154.5 129 150.8 131.5 146.1 132.6 143 135.9 136 137.1 132 137.5 129 138.3 126.5 139.5 124.5 143 120.5 147 113.6 148 112.7 150.5 111.1 151.8 110 154.8 106.5 155.4 105 155.9 100.5 156.4 99 157.6 97.5 161 95.1 162.5 93.7 163 93 165.2 84 166.2 82 167.8 80 170.5 77.6 172 76.8 173.5 76.3 175.5 76 177.5 76.1 179 76.3Z" fill="#fdd7a2" fill-rule="evenodd"/><path d="M180 77.5 181.5 78.4 182.8 79.5 183.7 80.5 184.6 82 185 83.5 185.2 85.5 185.1 87 184.6 89 183 92.5 180.1 97 179.5 98.4 178.9 100.5 177.9 106.5 176.9 109 175.7 111 174 113 169.5 117.5 168.9 119 167.3 125.5 166.4 128 165 130.5 162 134.5 159.9 138 158.5 142 157.6 145.5 156.6 148.5 155.2 151 153 154.2 151 157.9 148.1 166 145.2 173 140.7 181.5 134.5 192.1 130.5 200 129.5 202.5 129.2 204.5 129 207 129.4 212 129.3 214 128.5 218 127.7 220 120.8 232 117.3 237.5 113 243.6 111.5 245.1 109.5 246.1 107 246.4 105 246.1 103.5 245.2 101.9 243.5 100.6 241.5 100 239.5 99.7 234.5 100.1 227.5 101.1 220 102.4 215.5 104.1 211 107 205 111 198.1 112.2 195.5 113.5 190.5 114.4 185 116.4 179 118.8 173 121.9 166.5 123.1 163 124.6 159.5 127.1 155 129.9 151 132.1 147 133.4 143.5 136.8 136 138.1 132 138.7 128.5 139.5 126.4 140.5 125 143.9 121 146 117.5 148.1 114.5 152.7 110.5 156 106.5 156.7 105 158.2 100 158.9 99 163 94.6 163.9 93 165.8 85.5 166.3 84 167.7 81.5 168.8 80 170 78.9 171.5 77.9 173 77.2 174.5 76.9 176.5 76.8 178.5 77Z" fill="#fdd296" fill-rule="evenodd"/><path d="M180 78.3 181.5 79.2 182.5 80.1 183.6 81.5 184.2 83 184.5 84.5 184.6 86 184.4 87.5 183.8 89.5 182.3 92.5 179.6 96.5 179 97.8 178 101.5 177.4 106 176.6 108.5 175.7 110 174 112.2 169.5 116.4 168.7 117.5 168 119.7 166.6 125.5 165.9 127.5 164.6 130 161.5 134.3 159.5 137.5 158 141.4 157.2 145 156.3 147.5 154.8 150.5 152.4 154 150.5 157.5 147.7 165.5 145.3 171.5 140.3 181 134.1 191.5 130 199.3 128.6 203.5 128.5 206.5 128.8 213.5 128.2 216.5 127.3 219.5 120 232 116 238.1 112.5 242.6 111 244 109 245 107 245.2 105.5 244.8 104 243.9 102.5 242.4 101.5 240.5 101 238.6 100.7 234 101 229.5 101.5 226.5 101.5 222.5 101.9 220 102.9 216 105 210.9 107.5 206 109.5 202.8 113.3 196 114.6 190.5 115.4 185.5 117.5 179 119.3 174 122.4 167.5 123.8 163.5 125.5 159.5 128 155.2 130.7 151.5 132.5 148.4 134.7 142.5 138.5 134.5 139.2 132 139.6 129 140.4 127 142.2 124.5 145.1 121 147 118 149.6 114.5 151 113 153.5 110.8 156.5 107.3 159.6 100 163 95.8 164.5 93.5 165.3 91.5 166.5 85.5 167.4 83.5 168.5 81.6 170.5 79.4 172 78.4 173.5 77.7 175.5 77.4 177 77.5 178.5 77.7Z" fill="#fdcc8a" fill-rule="evenodd"/><path d="M179.5 78.8 181.5 80 183.1 82 183.8 84 183.9 86.5 183.4 89 182.5 91 181.1 93.5 179 96.4 178.2 98 177.5 101 177.2 104.5 176.5 107.5 175.4 109.5 174 111.4 169.1 116 168 117.5 166.8 123 165.5 127 163.6 130.5 160.4 135 158.9 137.5 157.6 141 156.6 145 156 147 154.2 150.5 151.8 154 150 157.4 144.9 171 142.7 175.5 140 180.5 134.5 189.7 129.4 199 128.3 202 127.9 203.5 128.3 213.5 127.8 216.5 126.8 219.5 119.6 231.5 115.5 237.5 113.5 240.1 111.5 242.1 109.5 243.5 107.5 243.9 105.8 243.5 104.3 242.5 103 240.9 102.3 239 101.7 235.5 101.8 230.5 102.2 227 102.3 222.5 102.9 218.5 103.9 215.5 105.9 211 114 196.5 114.6 194.5 115.4 191 116 187 117.6 182 120.2 174.5 122.9 168.5 125.5 161.5 127.5 157.5 130.5 153.2 132.8 149.5 135.4 143 139.2 135.5 140 133 140.8 129 142.7 125.5 143.7 124 147 120.1 151.1 114 154.3 111 157 108 160.1 100.5 161.2 99 163.8 96 165 94 166 91.7 167 86 168.6 82.5 169.5 81.3 170.7 80 172 79.1 173.5 78.4 175 78.1 176.5 78.1 178 78.3Z" fill="#fdc282" fill-rule="evenodd"/><path d="M179.5 79.5 181.5 80.9 182.7 82.5 183.3 84.5 183.3 87 182.8 89 182 90.9 180.5 93.4 178.6 96 177.6 98 177 100.5 176.6 105 175.9 107.5 175.2 109 173.7 111 168.8 115.5 167.5 117.1 167.1 118 166.3 123 165.2 126.5 163 130.5 159.5 135.5 157.9 138.5 157.3 140 155.7 146.5 153.7 150.5 151 154.5 149.7 157 144.6 170.5 142.2 175.5 139.5 180.5 134 189.5 128.7 199 127.6 202 127.3 203.5 127.8 210.5 127.8 214 127.2 217 126.3 219.5 125 222 119.7 230.5 116.6 235 113 239.4 111 241.1 108.5 242.3 107.5 242.5 106 242.1 104.7 241 104 239.8 103.1 237.5 102.5 234.5 102.9 223.5 103.7 218 104.6 215.5 106.8 211 109 207.5 110.2 205 114.8 196.5 115.7 194 116.7 187.5 118.2 182.5 120.4 176.5 123.5 169.4 126.4 161.5 128.2 158 133.3 150 136.3 142.5 140.1 135.5 141.9 129 143.6 125.5 145 123.5 147.5 120.6 151.6 114.5 154.7 111.5 157.5 108.5 160.6 101 161.9 99 164.6 96 165.8 94 166.6 92 167.2 88 167.7 86 168.4 84 169.3 82.5 170.5 81.1 171.5 80.2 172.6 79.5 174 78.9 176.5 78.7 178 78.9Z" fill="#fdb97b" fill-rule="evenodd"/><path d="M179 79.9 180.7 81 182 82.6 182.7 84.5 182.8 87 182.5 88.5 181.7 90.5 180.1 93 177.9 96 176.8 98 176.4 100 176.2 104.5 175.6 107 174.6 109 173.5 110.5 168.5 115 166.8 117 166.5 118 165.9 122.5 164.6 126.5 162.5 130.5 158.9 135.5 157.1 139 155.7 145 155.2 146.5 153.5 150 150.4 154.5 149.5 156.2 144.1 170.5 139.5 179.5 137 183.8 133.4 189.5 127.9 199 127 201.5 126.7 203.5 127.4 210.5 127.4 214 126.8 217 125.8 219.5 124.8 221.5 119.8 229.5 116.5 234.2 115 236 112.1 239 110.5 240.1 108.5 240.8 107.5 240.8 106.5 240.5 105.5 239.6 104.4 238 103.9 236.5 103.5 234.5 103.4 224.5 104.2 218.5 104.9 216.5 105.6 215 109.8 207.5 111.2 204.5 114.2 199.5 115.7 196.5 116.5 194 117.4 187.5 118.9 182.5 120.9 177 122.8 172.5 124.1 170 127.1 162 129.4 157.5 133.7 150.5 136.9 142.5 140.6 136 142 131.9 142.9 128.5 144 126 145.4 124 147.9 121 152 114.9 157.6 109.5 158.5 108 160.5 102.5 161.2 101 162.6 99 165.7 95.5 166.7 94 167.3 92 167.7 88.5 168.1 86.5 168.8 84.5 169.6 83 171.5 81 172.5 80.3 174 79.6 176.5 79.3Z" fill="#fdaf73" fill-rule="evenodd"/><path d="M178.8 80.5 180.3 81.5 181.5 83.1 182.2 85.5 182.2 87.5 181.8 89 181 90.6 180 92.2 177.4 95.5 176 98 175.9 99 175.7 104.5 175.1 107 174.4 108.5 173 110.4 168.5 114.2 166.3 116.5 166 117.5 165.9 120 165.5 122 164.3 126 162.2 130 158.7 135 156.8 138.5 154.7 146.5 153 150 149.3 155.5 147.7 159.5 144.7 168 143.2 171.5 139.9 178 137 183 132.8 189.5 130.9 193 128.5 196.5 126.9 199.5 126.2 201.5 126.1 203.5 127 210.5 127 214 126.6 216.5 125.6 219 124.4 221.5 119.5 229.2 115 235 111.5 238.2 110.5 238.9 109 239.4 107.5 239.3 106.5 238.7 105.5 237.5 104.8 236 104.5 234 104 229.5 103.9 225 104.7 219 105.5 216.5 106.7 214 110.2 208 111.7 205 114.9 200 116.6 196.5 117.3 194 118.1 187.5 119.4 183 121.3 177.5 123.4 172.5 124.7 170 127.6 162.5 129.8 158 134.3 150.5 137.5 142.5 141.5 135.5 142.2 133.5 143.5 128.5 144.4 126.5 152.5 115.2 156.8 111.5 158 110.2 159 108.5 160.8 103 161.8 101 163.3 99 166.6 95.5 167.3 94.5 168 92 168.6 87 169.2 85 169.9 83.5 171.5 81.7 172.5 81 174 80.3 175.2 80 176.5 79.9Z" fill="#fca56c" fill-rule="evenodd"/><path d="M178.5 81.1 180 82.1 181 83.6 181.6 85.5 181.6 87.5 181 89.5 180.2 91 177 95 175.2 98 175.3 104 175.1 105.5 174.4 107.5 173.6 109 172.5 110.3 168.3 113.5 166.2 115.5 165.5 116.5 165.2 121 164.2 125 162 129.5 158.2 135 156.5 138.1 155.8 140 155 144.1 154.1 147 152.8 149.5 148.8 155.5 144.3 168 142 173 139.4 178 136.5 183 132.2 189.5 130.2 193 127.9 196 125.8 200 125.4 201.5 125.4 203.5 126.5 210 126.7 213 126.3 216 125.3 219 124 221.5 119.5 228.5 115 234.1 113.5 235.5 110 237.7 108.5 238 107.5 237.6 106.5 236.7 106 235.7 105.1 232.5 104.6 229.5 104.4 224 105.1 219 107.3 214 113 204.1 116.2 199.5 117.5 197 118.2 194 118.8 187.5 119.6 184.5 122 177.5 124 172.6 125.1 170.5 128.3 162.5 130.1 158.5 134.5 151 138 142.5 142.6 134.5 144.1 128.5 145 126.6 152.9 115.5 157.4 112 158.3 111 159.7 108.5 161.3 103 162.3 101 163.9 99 168.1 95 168.7 92 169.1 87.5 169.6 85.5 170.3 84 171 83 172 82.1 174 81 176.5 80.6Z" fill="#fc9c64" fill-rule="evenodd"/><path d="M178 81.6 179.4 82.5 180.5 84 181 85.5 181 87.5 180.6 89 179.5 91 176.8 94 174.3 97.5 174.7 101 174.8 104 174.6 105.5 174 107.3 173 109 172 110.1 167.9 113 165.6 115 164.8 116 164.7 117 164.9 119 164.8 120.5 163.9 124.5 161.8 129 159.9 132 157.4 135.5 156 138 155.4 140 154.6 144 153.6 147 152.5 149.3 148.4 155.5 144 167.5 141.8 172.5 139 177.9 136.3 182.5 131.6 189.5 129.8 192.5 127.2 195.5 124.6 200 124.5 201 124.7 203.5 126.1 210 126.3 212.5 126.1 215.5 124.9 219 123.6 221.5 119 228.5 114.5 233.6 113 234.9 111.5 235.7 109.5 236.3 108.5 236.2 107.5 235.5 106.5 233.8 106 232.5 105.2 229.5 104.9 227 104.8 224 105.5 219.4 107.5 214.5 112.2 206.5 114.2 203.5 117.4 199.5 118.5 197.5 119.1 193.5 119.3 188.5 120 185.5 122.8 177 125.7 170.5 128.7 163 130.8 158.5 135.1 151 138.8 142 143.2 134.5 144.6 129 145.4 127 149.9 120.5 153.2 116 155 114.5 158 112.7 158.7 112 160.3 109 161.2 105 161.8 103 162.6 101.5 164.5 99.2 168.9 95.5 169.2 95 169.4 93.5 169.7 87.5 170.2 85.5 171 84 172.4 82.5 174 81.6 176 81.2Z" fill="#fc925d" fill-rule="evenodd"/><path d="M178 82.3 179 83.1 180 84.5 180.4 86 180.4 87.5 180 89 178.8 91 173.8 96 173.2 97 174.1 100.5 174.3 103.5 174.1 105.5 173.6 107 172.8 108.5 171.5 109.9 167 112.8 164.2 115 164 115.4 163.9 116.5 164.3 120 163.8 123 163.3 124.5 161.5 128.7 159.5 131.9 156.8 135.5 155.7 137.5 155 139.5 154.3 143.5 153.2 147 152.2 149 148.7 154 147.9 155.5 143.8 167 141.4 172.5 138.8 177.5 135.8 182.5 129.4 192 128 193.6 126.4 195 123.4 199.5 123.3 200.5 123.9 203.5 125.4 208.5 125.9 211.5 125.8 215 125.3 217 124.6 219 122.9 222 119.2 227.5 117 230.3 113.5 233.6 112.5 234.3 110.5 235 109 234.8 108 234.1 107 232.7 106.3 231 105.7 228.5 105.3 224 105.9 219.5 107.7 215 112.5 207 115.1 203.5 119.7 198.5 119.9 197.5 120.2 193 120 189 120.5 186 122.1 180.5 123.5 176.5 129.7 162 131.6 158 135.6 151 136.7 148.5 138 144.8 139.2 142 143.6 135 144.2 133.5 145 129.5 146 127.1 150 121 153.5 116.5 155.5 114.9 159 113.2 159.5 112.6 161 109.4 161.5 106 162.2 103.5 162.8 102 163.5 101 166.5 98.2 170 96 170.3 95.5 170.3 88 170.7 86 171.4 84.5 172.8 83 174.5 82.1 176.5 81.9Z" fill="#fa8856" fill-rule="evenodd"/><path d="M177.5 82.9 178.9 84 179.7 85.5 179.9 87 179.3 89 178.4 90.5 177 91.9 174 93.9 173 94.2 172.5 94.1 172 93.6 171.5 92.5 170.9 89 171 87.5 171.6 85.5 172.6 84 174 83 176 82.6ZM171.5 97.4 172.6 98.5 173.1 99.5 173.5 100.8 173.8 104 173.3 106.5 172.1 108.5 171 109.6 169 111 166.5 112.1 163.3 114 162.7 114.5 162.7 115.5 163.5 118 163.8 120 163.3 123 162.4 125.5 161.4 128 160 130.3 156.2 135.5 155.4 137 154.6 139 153.9 143 152.8 147 151.1 150 148.2 154 147.3 155.5 143.5 166.6 141 172.3 138.5 177.1 135.6 182 128.5 192 127.5 193.1 125.5 194.5 124 195.9 123 196.4 122.5 196.4 122 195.9 121.7 195 121.4 193 120.8 190.5 120.8 188.5 122.4 181.5 123.9 177 131 160.3 134.9 153.5 137 149.2 138.4 145 139.5 142.5 140.5 140.5 144.2 135 144.8 133.5 145.4 130 146.2 128 150.2 121.5 154 116.8 155 115.9 156.5 115 158 114.4 159.9 114 160.7 113.5 161.9 110 162 107 162.3 105 163 102.8 164 101.2 166.5 98.9 168 97.9 170 97.2 171 97.2ZM121 200.5 121.7 201 122.5 202.3 124.5 207.2 125.4 210 125.6 212 125.6 214 125.4 215.5 124.8 217.5 124 219.5 122.2 222.5 118.5 227.9 117 229.7 112.5 233.3 111 233.8 109.5 233.7 108.5 233 107.5 231.8 106.7 230 106.1 227.5 105.7 223.5 106.1 220.5 106.6 218.5 108.4 214.5 113.5 206.4 116 203.6 118 201.8 119.5 200.8 120.5 200.4Z" fill="#f67e50" fill-rule="evenodd"/><path d="M177 83.5 178 84.1 178.9 85.5 179.1 87 178.8 88.5 178 89.9 176.9 91 175 92 173.5 92.1 173 91.8 172.5 91.2 171.8 89.5 171.7 88 172 86.4 172.7 85 174 83.8 175.5 83.4ZM171 98.5 172.1 99.5 172.9 101.5 173.2 104.5 173 105.7 172.5 107 171 108.9 169 110.3 166.5 111.3 165 111.5 164 111.5 163.5 111.1 163.1 110 162.6 107.5 162.8 105.5 163.8 102.5 165 100.9 168 98.8 169.5 98.3ZM160.5 115.2 161.5 115.8 162 116.4 162.6 117.5 163.1 119 163 121.5 162.1 125 161.1 127.5 158.5 131.8 155.6 135.5 154.7 137 154 139.5 153.5 143 152.5 146.5 150.9 149.5 147.6 154 146.8 155.5 143.1 166.5 140.9 171.5 138.1 177 135 182 131 187.4 128.9 190 127.9 191.5 127 192.4 125.5 193.3 124.5 193.6 123.5 193.5 122.5 192.5 122 191.5 121.7 190.5 121.6 189 123.1 181.5 124.4 177 131.5 160.5 133 157.5 135.5 153.5 137.5 149.5 138.6 145.5 139.9 142.5 141 140.6 144.6 135.5 145.4 133.5 145.9 130.5 146.5 128.8 148.2 125.5 151 121.2 154.5 117.1 156 115.9 157 115.4 158.5 115ZM120.5 202.4 121.5 203.1 123 205.3 124.3 208 125 210 125.3 212 125.2 214 124.5 217.5 123.6 219.5 121.8 222.5 118.3 227.5 117 229 115 230.7 112.5 232.3 111 232.8 110 232.7 109 232.1 108 231 106.9 228.5 106.4 226.5 106.1 224.5 106.2 223 106.4 221 107 218.5 108.6 215 113.5 207.2 115.5 205.1 118 203.1 119.5 202.4Z" fill="#f2734a" fill-rule="evenodd"/><path d="M176.5 84.3 177.5 84.9 178.2 86 178.3 87 178 88.2 177.3 89.5 176.5 90.3 175 90.9 174 90.8 173.1 90 172.6 89 172.5 88 172.8 86.5 173.5 85.3 174.5 84.5 175.5 84.2ZM170.5 99.4 171.7 100.5 172.3 102 172.6 104.5 172.1 106.5 170.6 108.5 168.5 109.9 166.5 110.4 165 110.2 164 109.4 163.5 108.5 163.3 107.5 163.4 105.5 164.2 103 165.2 101.5 167.5 99.9 169 99.3ZM160.5 116.2 161.8 117.5 162.4 119.5 162.2 122.5 161.4 125.5 160.6 127.5 159.1 130 154.8 135.5 154.3 136.5 153.4 139.5 152.9 143.5 152.1 146.5 150.5 149.4 147.4 153.5 146.2 155.5 142.7 166 140.4 171.5 137.5 177 134.7 181.5 130.5 187 126.5 191.5 125 192.1 124 191.9 123 190.9 122.7 190 122.6 189 123.1 185 123.8 181.5 125.2 176.5 131.5 161.5 133.6 157.5 136.1 153.5 137.8 150 139.1 145.5 140.4 142.5 141.6 140.5 144.5 136.8 145.3 135.5 146.1 133.5 146.7 130 147.8 127.5 148.8 125.5 151.4 121.5 155 117.5 156.5 116.4 157.5 115.9 158.5 115.8 159.5 115.8ZM120.5 203.9 121.5 204.6 123 206.5 124 208.4 124.7 210.5 124.9 212 124.8 214.5 124.5 216.5 124 217.9 123.3 219.5 121 223.2 118 227.2 116.5 228.9 115 230.2 113 231.2 111.5 231.7 110 231.6 109 230.9 108 229.3 107.2 227.5 106.7 225.5 106.5 224 106.7 222 107.6 218 108.5 216 109.6 214 114 207.4 115.5 205.9 117.5 204.6 119.5 203.8Z" fill="#ef6945" fill-rule="evenodd"/><path d="M176 85.4 176.9 86 177.1 86.5 177 88 176 89.2 175 89.5 174.5 89.4 174 89 173.8 88.5 173.8 87 174.5 85.9 175 85.5ZM170 100.4 170.9 101 171.3 101.5 172 103.5 172 105 171.5 106.4 170.5 107.7 168.5 109.2 167 109.6 165.5 109.4 164.5 108.5 164 107 164.2 105 164.8 103 166 101.6 167.5 100.7 169 100.3ZM160 116.9 161.2 118 161.7 119.5 161.5 123 160.9 125.5 160 127.5 158.9 129.5 157 132 154.4 135 153.8 136 152.8 139.5 152.4 143.5 151.6 146.5 150 149.4 145.8 155 142.8 164.5 141.4 168 139.9 171.5 137 176.9 132.9 183 129.5 187 126.5 189.8 125.5 190.3 124.5 190.1 124.1 189.5 123.9 189 123.9 185 124.9 180 125.8 176.5 132 161.7 134 158 136.7 153.5 138.3 150.5 139.4 146 140.5 143.4 142.1 140.5 145 137.2 145.8 136 146.9 133.5 147.3 130.5 148.6 127 150 124.5 151.7 122 153.5 119.9 156.5 117.2 157.5 116.7 158.5 116.6ZM120.5 205 121.5 205.7 122.5 206.7 123.6 208.5 124.3 210.5 124.5 212 124.5 214 124.3 216 123.6 218 120.5 223.4 116.3 228.5 115 229.6 113.5 230.4 112 230.8 110.5 230.7 109.5 230.1 108.5 228.9 107.7 227.5 107.2 225.5 107 222.5 107.5 219.5 108 218 108.9 216 110.4 213.5 113.5 208.8 114.5 207.5 116 206.2 117.5 205.3 119 204.9Z" fill="#eb5f3f" fill-rule="evenodd"/><path d="M169.5 101.3 170.5 102 171.2 103.5 171.4 104.5 171 106 170 107.3 168.5 108.3 167 108.7 166 108.5 165.1 107.5 164.9 106.5 165 105 165.4 103.5 166 102.5 167 101.8 168.5 101.2ZM159.5 117.7 160.5 118.6 160.9 120 160.9 123 160.3 125.5 159.5 127.5 158.5 129.2 153.2 135.5 152.2 139 151.9 143.5 151 146.5 149.5 149.3 146.8 152.5 145 155 144.2 158 143.3 160.5 142.4 164 140.7 168.5 138.8 172.5 135.7 178 132.5 182.6 128.5 186.6 127 187.5 126 187.6 125.5 187.1 125.2 186.5 124.9 184.5 125.5 180 126.5 176.5 132.5 162 134 159.1 138.6 151.5 139.3 149 140 146 141 143.5 142.5 140.8 143.6 139.5 145.7 137.5 147.1 135 147.7 133.5 148 131 148.7 128.5 149.5 126.5 151 123.9 153.5 120.8 156.5 118.2 158 117.5 159 117.5ZM120.5 205.9 121.5 206.5 122.5 207.6 123.5 209.4 124 211 124.2 212.5 124.1 215 123.8 216.5 123.3 218 120.4 223 116 228.2 114.5 229.3 113 229.9 111.5 230.1 110.5 229.9 109.5 229.1 108.5 227.8 107.9 226.5 107.6 225 107.5 222 108.1 219 108.6 217.5 111 213.2 114 208.9 115 207.7 116.5 206.5 118 205.8 119.5 205.7Z" fill="#e75439" fill-rule="evenodd"/><path d="M169 102.3 170 102.9 170.4 103.5 170.6 104.5 170.3 105.5 170 106.1 169 107 168 107.4 167 107.5 166.5 107.3 166 106.5 165.8 105.5 166 104 166.5 103.2 167.4 102.5 168 102.3ZM159 118.8 159.7 119.5 160.2 122 160.2 123.5 159.7 125.5 158.6 128 157.6 129.5 155 132.5 152.8 134.5 152.1 135.5 151.5 137.5 151.3 140 151.4 143 150.7 146 149.1 149 145.2 153.5 144.2 155 143.6 158 142.6 160.5 142 163.5 140.4 168 138 173 135 178.1 131.7 182.5 128.5 185.1 127.5 185.4 127 185.3 126.5 184.8 126.3 184 126.3 180.5 126.5 179 127.6 175.5 130.9 167.5 132 164.5 133.7 161 139.2 152 140.5 146.1 141.3 144 143.4 140.5 144.5 139.4 146.2 138 148.3 135 148.7 133.5 148.7 131.5 149.1 129.5 149.9 127 151 124.9 153.5 121.7 155 120.3 157.5 118.8 158.5 118.6ZM120.5 206.7 121.5 207.3 122.5 208.5 123.6 211 123.8 212.5 123.6 215.5 122.9 218 120 223 117.5 226 115.5 228 113.5 229.2 112 229.4 111 229.3 110 228.7 109 227.6 108.5 226.5 108.1 225 107.9 223.5 108 221.5 108.4 219 109 217.5 111.5 213.1 114.5 209 115.5 207.9 116.8 207 118 206.5 119.5 206.4Z" fill="#e34a33" fill-rule="evenodd"/><path d="M167.5 104 168.5 103.6 169 103.9 169.3 104.5 168.9 105.5 168 105.8 167.5 105.7 167.2 105ZM158.5 120.4 159.3 121.5 159.5 123.5 159.2 125 157.9 128 156.8 129.5 154 132.4 152.5 133.5 151 134.3 150.5 134.2 149.8 132.5 149.6 130.5 150.1 128.5 151.3 125.5 154 122.2 155 121.3 157 120.2 158 120.2ZM149.5 137.3 150 137.8 150.2 138.5 150.9 142.5 150.6 144.5 149.7 147 148.4 149 144.6 153 143.5 154.5 143 157.5 142.1 160 141.5 163.2 140.5 165.5 139.8 168 138.4 170.5 137 173.7 134.3 178 131.5 181.5 130.5 182.4 129.5 182.9 128.5 183.1 128.2 183 127.4 182 127.2 180 128.5 175 131.7 167.5 132.5 164.9 134.6 160.5 136.5 158 138 155.2 139.8 153 140.2 151.5 141 146.5 141.7 144.5 143.4 141.5 144.5 140.1 148 137.7 149 137.2ZM120.5 207.4 121.5 208.1 122.2 209 123 210.5 123.2 211.5 123.3 215.5 122.6 218 119.6 223 117.5 225.4 114.5 228.1 113.5 228.6 112 228.7 111 228.5 110 227.8 109.3 227 108.9 226 108.5 224.5 108.5 221 108.8 219 109.4 217.5 111.6 213.5 115.6 208.5 117 207.5 118 207.1 119.5 207Z" fill="#dc3f2b" fill-rule="evenodd"/><path d="M158 121.7 158.5 122.5 158.6 124 157.1 128 156.3 129 154 131.2 152.5 132.1 151.5 132.1 150.9 131.5 150.6 130 151.4 127 152.2 125.5 154.5 122.8 155.5 122 157 121.5ZM148.5 139.2 149 139.5 149.7 140.5 150.3 142.5 150 144.5 149.1 147 148.5 148 147.5 149.2 142.3 153.5 142.1 154 142.2 155.5 142.1 157 141.2 160 141 162.5 140 165 139.5 167 139 168.3 137.9 170 136.7 173 133.5 177.9 130.5 180.9 130 181.1 129.1 181 128.7 180.5 128.5 179.5 129.1 175.5 131.3 170 132.3 168 133.2 165 134.4 163 135.2 161 135.8 160 137.6 158 138.5 156.3 139.4 155 141.4 153.5 141.3 150 141.6 147 142.3 144.5 144 141.7 145 140.6 147 139.4ZM120 207.8 121.5 208.9 122.7 211 122.9 212.5 122.9 215 122.4 217.5 119.9 222 117 225.3 114 227.7 113 228 111.5 227.9 110.7 227.5 110 226.8 109.5 226 109.1 224.5 108.9 223 108.9 221 109.6 218 112.1 213.5 116 208.9 117 208.1 118 207.7 119 207.6Z" fill="#d43323" fill-rule="evenodd"/><path d="M156.8 123.5 157.1 124 156.9 126 156.6 127 156 128 155 129 153.5 130 152.5 130.1 152.1 129.5 152.1 129 152.5 127 153 125.9 154 124.8 155.5 123.6 156 123.3ZM148.3 140.5 149.2 141.5 149.6 143 149.3 144.5 148.1 147.5 147 148.8 145 150.2 144 150.6 143 150.4 142.5 149.5 142.3 147.5 142.4 146 143 144.5 144.5 142.2 145.5 141.1 147 140.4ZM139.5 158.6 140 159.6 140.1 162 139.9 163 139.1 165 138.5 167.6 137 170 136 172.7 134.2 175 133.5 176.3 133 176.9 131.5 178.1 131 178.3 130.5 178.1 130.1 177 130.4 175 131.2 173 132 170.5 133.3 168 134 165.3 135.5 163 136 161.5 136.5 160.7 137.5 159.7ZM120 208.5 120.7 209 121.5 209.8 122.3 211.5 122.5 213.5 122.5 215.5 122.3 216.5 121.8 218 119.4 222 116.5 225.2 113.5 227.2 112.5 227.4 111.5 227.1 110.6 226.5 110 225.5 109.4 223 109.4 220.5 110.1 218 112.5 213.6 116 209.7 117 208.8 118 208.4 119 208.3Z" fill="#cd281b" fill-rule="evenodd"/><path d="M147.5 141.7 148 141.9 148.4 142.5 148.6 143.5 148 146 147.5 147 147 147.7 146 148.5 145 148.9 144 148.8 143.5 148.3 143.2 147 143.6 145 145.5 142.4 146.5 141.7ZM138 162.8 137.7 164 137.7 166 137.5 167 137 168 135.9 169.5 135.5 171 135 171.9 134 173.2 133.5 173.5 133 173.5 132.8 172.5 133 171.5 134.4 169 135.1 166 137.5 162.7ZM120 209.3 120.9 210 121.5 210.9 122 212.9 122 216 121.3 218 119.5 221.3 117 224.2 115.5 225.4 114 226.3 113 226.6 112 226.5 110.8 225.5 110 223 109.9 220.5 110.6 218 112.7 214 116 210.4 118 209.1 119 209Z" fill="#c51c14" fill-rule="evenodd"/><path d="M146.5 143.7 146.9 144 147 144.4 146.8 146 146 147 145 147.1 144.6 146.5 144.9 145 145.5 144.3ZM119.5 209.9 120.4 210.5 121 211.3 121.6 213.5 121.6 216 120.7 218.5 119 221.3 116.5 224.1 115 225.1 114 225.6 113 225.7 112.1 225.5 111.5 225 111 224.2 110.4 222 110.6 219.5 111.5 217 113.3 214 116 211.1 118 209.8Z" fill="#be110c" fill-rule="evenodd"/><path d="M120 211.1 120.6 212 121.1 214 121 216.5 120 219 118 221.9 116 223.8 114 224.8 113 224.9 112.5 224.7 111.4 223.5 111 222.5 110.9 221.5 111.2 219 112.2 216.5 113.8 214 116 211.8 118 210.6 119 210.6Z" fill="#b70604" fill-rule="evenodd"/></g></g>
<use href="#plines"/>
<use href="#site" fill="none" stroke="#141414" stroke-width="0.75"/>
<path d="M174.3 85 L177.4 84.4 L177.6 87.2 L174.6 87.8 Z" fill="none" stroke="#0a0a0a" stroke-width="1.35" stroke-dasharray="5.8 1"/>
<path d="M150.9 147.0 L150.9 147.5 L150.7 148.0 L150.6 148.5 L150.3 148.9 L150.0 149.3 L149.6 149.6 L149.2 149.9 L148.7 150.0 L148.2 150.2 L147.7 150.2 L147.2 150.2 L146.7 150.0 L146.2 149.9 L145.8 149.6 L145.4 149.3 L145.1 148.9 L144.8 148.5 L144.7 148.0 L144.5 147.5 L144.5 147.0 L144.5 146.5 L144.7 146.0 L144.8 145.5 L145.1 145.1 L145.4 144.7 L145.8 144.4 L146.2 144.1 L146.7 144.0 L147.2 143.8 L147.7 143.8 L148.2 143.8 L148.7 144.0 L149.2 144.1 L149.6 144.4 L150.0 144.7 L150.3 145.1 L150.6 145.5 L150.7 146.0 L150.9 146.5 Z" fill="none" stroke="#0a0a0a" stroke-width="1.35" stroke-dasharray="5.8 1"/>
<path d="M147.0 165.3 L147.0 165.9 L146.8 166.4 L146.6 167.0 L146.3 167.5 L145.9 167.9 L145.5 168.3 L145.0 168.6 L144.4 168.8 L143.9 169.0 L143.3 169.0 L142.7 169.0 L142.2 168.8 L141.6 168.6 L141.1 168.3 L140.7 167.9 L140.3 167.5 L140.0 167.0 L139.8 166.4 L139.6 165.9 L139.6 165.3 L139.6 164.7 L139.8 164.2 L140.0 163.6 L140.3 163.1 L140.7 162.7 L141.1 162.3 L141.6 162.0 L142.2 161.8 L142.7 161.6 L143.3 161.6 L143.9 161.6 L144.4 161.8 L145.0 162.0 L145.5 162.3 L145.9 162.7 L146.3 163.1 L146.6 163.6 L146.8 164.2 L147.0 164.7 Z" fill="none" stroke="#0a0a0a" stroke-width="1.35" stroke-dasharray="5.8 1"/>
<path d="M137.5 180.5 L137.5 180.8 L137.4 181.2 L137.3 181.5 L137.1 181.8 L136.9 182.1 L136.6 182.3 L136.3 182.5 L136.0 182.6 L135.6 182.7 L135.3 182.7 L135.0 182.7 L134.6 182.6 L134.3 182.5 L134.0 182.3 L133.7 182.1 L133.5 181.8 L133.3 181.5 L133.2 181.2 L133.1 180.8 L133.1 180.5 L133.1 180.2 L133.2 179.8 L133.3 179.5 L133.5 179.2 L133.7 178.9 L134.0 178.7 L134.3 178.5 L134.6 178.4 L135.0 178.3 L135.3 178.3 L135.6 178.3 L136.0 178.4 L136.3 178.5 L136.6 178.7 L136.9 178.9 L137.1 179.2 L137.3 179.5 L137.4 179.8 L137.5 180.2 Z" fill="none" stroke="#0a0a0a" stroke-width="1.35" stroke-dasharray="5.8 1"/>
<path d="M133.6 190.0 L133.6 190.3 L133.5 190.6 L133.4 190.9 L133.2 191.2 L133.0 191.4 L132.8 191.6 L132.5 191.8 L132.2 191.9 L131.9 192.0 L131.6 192.0 L131.3 192.0 L131.0 191.9 L130.7 191.8 L130.4 191.6 L130.2 191.4 L130.0 191.2 L129.8 190.9 L129.7 190.6 L129.6 190.3 L129.6 190.0 L129.6 189.7 L129.7 189.4 L129.8 189.1 L130.0 188.8 L130.2 188.6 L130.4 188.4 L130.7 188.2 L131.0 188.1 L131.3 188.0 L131.6 188.0 L131.9 188.0 L132.2 188.1 L132.5 188.2 L132.8 188.4 L133.0 188.6 L133.2 188.8 L133.4 189.1 L133.5 189.4 L133.6 189.7 Z" fill="none" stroke="#0a0a0a" stroke-width="1.35" stroke-dasharray="5.8 1"/>
<path d="M126.5 209.0 L126.5 209.4 L126.4 209.8 L126.2 210.2 L126.0 210.6 L125.7 210.9 L125.4 211.2 L125.0 211.4 L124.6 211.6 L124.2 211.7 L123.8 211.7 L123.4 211.7 L123.0 211.6 L122.6 211.4 L122.2 211.2 L121.9 210.9 L121.6 210.6 L121.4 210.2 L121.2 209.8 L121.1 209.4 L121.1 209.0 L121.1 208.6 L121.2 208.2 L121.4 207.8 L121.6 207.4 L121.9 207.1 L122.2 206.8 L122.6 206.6 L123.0 206.4 L123.4 206.3 L123.8 206.3 L124.2 206.3 L124.6 206.4 L125.0 206.6 L125.4 206.8 L125.7 207.1 L126.0 207.4 L126.2 207.8 L126.4 208.2 L126.5 208.6 Z" fill="none" stroke="#0a0a0a" stroke-width="1.35" stroke-dasharray="5.8 1"/>
<path d="M105.7 221.4 L104.9 221.7 L104.1 222.2 L103.3 222.7 L102.7 223.2 L101.9 223.7 L100.9 223.9 L99.7 224.0 L98.7 224.2 L97.7 224.5 L96.7 224.9 L95.9 225.4 L95.4 225.9 L94.9 226.7 L94.5 227.7 L94.3 228.7 L94.4 229.8 L94.7 230.7 L95.2 231.6 L95.7 232.2 L96.4 232.8 L97.2 233.2 L98.2 233.4 L99.4 233.5 L100.4 233.2 L101.2 232.9 L101.9 232.4 L102.7 231.7 L103.2 231.1 L103.7 230.4 L104.2 229.6 L104.9 229.0 L105.7 228.6 L106.6 228.2 L107.4 227.8 L108.2 227.3 L108.9 226.7 L109.4 226.1 L109.8 225.2 L109.9 223.9 L109.5 222.9 L109.0 222.2 L108.3 221.6 L107.4 221.3 L106.2 221.2 Z" fill="none" stroke="#0a0a0a" stroke-width="1.35" stroke-dasharray="5.8 1"/>
<path d="M112.6 242.6 L112.5 243.4 L112.4 244.1 L112.1 244.8 L111.7 245.4 L111.2 246.0 L110.6 246.5 L110.0 246.9 L109.3 247.2 L108.6 247.3 L107.8 247.4 L107.0 247.3 L106.3 247.2 L105.6 246.9 L105.0 246.5 L104.4 246.0 L103.9 245.4 L103.5 244.8 L103.2 244.1 L103.1 243.4 L103.0 242.6 L103.1 241.8 L103.2 241.1 L103.5 240.4 L103.9 239.8 L104.4 239.2 L105.0 238.7 L105.6 238.3 L106.3 238.0 L107.0 237.9 L107.8 237.8 L108.6 237.9 L109.3 238.0 L110.0 238.3 L110.6 238.7 L111.2 239.2 L111.7 239.8 L112.1 240.4 L112.4 241.1 L112.5 241.8 Z" fill="none" stroke="#0a0a0a" stroke-width="1.35" stroke-dasharray="5.8 1"/>
</g>
<g transform="translate(359.9 0)">
<rect x="194.7" y="110.6" width="112.2" height="135" fill="#fff" stroke="#222" stroke-width="0.7"/>
<text class="lg" x="199" y="123.8">Legend</text>
<rect x="198.8" y="133.6" width="14.9" height="7.8" fill="#fff" stroke="#222" stroke-width="0.6"/>
<text class="li" x="217.3" y="140.3">Study site</text>
<line x1="198.8" y1="149.5" x2="212.8" y2="149.5" stroke="#4a4a4a" stroke-width="0.8"/>
<text class="li" x="217.3" y="152.5">Power lines</text>
<rect x="198.7" y="157.8" width="14.7" height="8.3" fill="#fff" stroke="#111" stroke-width="1.4" stroke-dasharray="6.2 1.47"/>
<text class="li" x="217.3" y="164.9">Electrocution hotspots</text>
<text class="li" x="198.8" y="176.9">Population heatmap</text>
<rect x="198.8" y="184.3" width="14.9" height="7.9" fill="#fef0d9"/>
<text class="li" x="217.3" y="191.3">0</text>
<rect x="198.8" y="196.7" width="14.9" height="7.9" fill="#fdcc8a"/>
<text class="li" x="217.3" y="203.7">10.5</text>
<rect x="198.8" y="209.1" width="14.9" height="7.9" fill="#fc8d59"/>
<text class="li" x="217.3" y="216.1">21</text>
<rect x="198.8" y="221.5" width="14.9" height="7.9" fill="#e34a33"/>
<text class="li" x="217.3" y="228.5">31.5</text>
<rect x="198.8" y="233.9" width="14.9" height="7.9" fill="#b30000"/>
<text class="li" x="217.3" y="240.9">42</text>
</g>
<g transform="translate(366.7 -3.3)">
<text class="n" x="54.7" y="264.9" text-anchor="middle">N</text>
<path d="M54.6 266.2 L42.8 296 L54.6 284 Z" fill="#d0d0d0" stroke="#222" stroke-width="0.7" stroke-linejoin="miter"/>
<path d="M54.6 266.2 L66.5 296 L54.6 284 Z" fill="#fff" stroke="#222" stroke-width="0.7" stroke-linejoin="miter"/>
</g>
<g transform="translate(363 -1.6)">
<rect x="87.9" y="270.3" width="45.9" height="6.3" fill="#fff" stroke="#111" stroke-width="0.6"/>
<rect x="87.9" y="270.3" width="22.9" height="6.3" fill="#000"/>
<text class="sb" x="88.5" y="263.9" text-anchor="middle">0</text>
<text class="sb" x="111" y="263.9" text-anchor="middle">1</text>
<text class="sb" x="131" y="263.9">2 km</text>
</g>
</g>
<g id="panel-c">
<text class="t" x="30.5" y="328.6">c) Vervet</text>
<text class="t" x="30.5" y="347.5">monkey</text>
<g transform="translate(-1.1 282.3)">
<g clip-path="url(#siteclip)"><path d="M188.5 37.3 190.5 38.2 192.5 39.8 194.4 42 195.4 44 195.5 44.6 195.8 45 196 46.5 198.4 49 198.5 49.6 198.9 50 199 50.5 199.4 51 199.5 51.7 199.9 52.5 200 54.1 200.2 54.5 200.3 55.5 200 56.7 199.9 58.5 199.5 59 199.4 60 199 60.4 198.8 61 197.5 62.8 197.3 64.5 196.4 67 196.5 67.6 197.8 69.5 198.9 72.5 198.8 77.5 198.5 78 198.4 79 198 79.4 197.9 80 197.5 80.4 197.3 81 195 83.5 194.5 84.2 194.4 85 194 85.4 193.9 86 192 88.4 191.9 89 191.5 89.5 191.3 90.5 189.5 93.3 189.3 94.5 189 94.9 188.7 96 187 98.8 186.9 100 186.5 100.7 186.4 101.5 186 101.9 185.3 104 185 104.5 184.5 105.9 184.3 107.5 183 110.4 182.8 112 182.3 113.5 181.5 114.9 180.7 118 180 119.5 179.5 121 179.2 126.5 178 130.3 177.8 132 177.3 133.5 176.3 135.5 174 138 172 139.5 171.5 140.7 171.2 142.5 170 145.2 169.1 148.5 167.5 151.4 166.3 154.5 164.5 157 162.5 160.8 161.6 163.5 160.5 165.7 159.7 168.5 158.5 170.8 157.7 173.5 156.5 175.9 155.8 178.5 154.5 180.8 153.2 184.5 152 186.4 151.2 189 149 192.3 148.4 194 147 196.3 146.3 198.5 145.5 199.9 144.7 203 143.5 205.4 142.7 208.5 141.6 210.5 140.5 212 139.3 215 137 218 135.8 220.5 134 222.8 133.3 224.5 132 226.4 131.3 228.5 130 230.8 128.8 234 127.5 236.4 126.7 239 125.5 241 124 245.3 123.8 247 122.8 249.5 121.9 251 120 253 119 253.8 117 254.8 115.5 255.3 113 255.7 109.5 255.2 107.5 254.4 106.1 253.5 103 252.7 102 252.3 100.1 251 96.5 249.8 94.5 248.4 92.6 246.5 91.7 245 90.7 242.5 90.3 240 90.4 238.5 89.2 236 88.7 234 88.7 230 89.2 228 90.2 226 91.9 224 94 222.2 94.1 219.5 94.5 218.7 94.6 217.5 95 217.1 95.1 216.5 95.5 216 95.6 215.5 97 213.5 95.8 212 94.6 209.5 94.5 208.3 94.2 207.5 94.1 205 94.7 202.5 96.2 199.5 99 196.7 101.1 195.5 100.1 193 99.7 190 100.1 187.5 100.2 182.5 101.1 179.5 102.8 177 104 175.7 106 174.3 109 173.1 111.5 172.9 114.5 173.2 115 173.5 116 173.7 116.4 174 117 174.2 119 175.6 119.2 175.5 120.5 173.2 121.7 170 123 167.6 123.2 166.5 125 162.6 125.8 160 127 157.5 127.7 155 129 152.5 129.4 150.5 129 149.4 126 148.9 123.5 147.8 121.5 146.3 119.6 144 118.7 142.5 118.5 141.5 118.2 141 117.7 137.5 118.2 134.5 118.5 134.1 118.6 133.5 119.6 131.5 121.5 129.4 123 128.1 126 126.7 128.5 126.3 130.5 126.2 131.2 125 132.3 123.5 133.5 122.3 136 120.6 136.6 120.5 137 120.2 138 120 138.2 117 138.7 115 139 114.6 139.1 113.5 138.5 110.6 136.7 108 135.8 105.5 135.6 104 135.6 101.5 136.2 99 137.2 97 138.9 95 140 94 140 93.5 138.5 92.9 137 91.8 135.7 90.5 134.6 89 133.6 87 133.5 86.1 133.1 85.5 133 83 133.1 80.5 133.5 79.9 133.6 79 134.6 77 135.7 75.5 137 74.2 138 73.5 138 72.7 137.6 71.5 137.7 69.5 138 68.7 138.1 67.5 139.1 65 140 63.9 140.2 63.5 142 61.6 144.5 60.1 145.1 60 145.5 59.6 146.8 59.5 147.5 59.1 150.5 59.1 151.5 59.2 151.8 59.5 153 59.6 153.5 60 154 60.1 154.6 60.5 159.5 60.7 160 61 161 61.2 163 62.2 165.5 64.3 166 64.2 166.7 63 168.5 61.1 170.5 59.7 171.2 59.5 171.5 59.2 172.6 59 173 58.7 175 58.5 175.6 57 176 56.5 176.1 56 174.6 54 173.6 52 173.5 51 173.2 50.5 173 48 173.1 46 173.5 45.4 173.6 44.5 174.2 43 175.1 41.5 178 38.6 178.5 38.5 179.5 37.8 180.5 37.5 181 37.1 182.2 37 183 36.6 185 36.6 186.5 36.7 187 37ZM152.5 91.3 151.6 92 151.4 92.5 152.5 92.8Z" fill="#fef0d9" fill-rule="evenodd"/><g filter="url(#hb)"><path d="M187.5 40.6 189.5 41.7 191.3 43.5 196.3 51 197 52.5 197.3 54 197.5 55.5 197.3 57 196.3 60 194.9 62.5 192.7 65 192.2 66 193.2 68.5 194.9 71.5 195.5 73.5 195.6 75 195.4 76.5 194.2 80 193.1 82.5 189 89.8 185.3 98 182.7 103 179.9 107.5 178.1 112 176.1 116 173.5 120.2 172.5 123.6 171.8 128 170.8 131 170 132.5 166.5 137.8 162.9 146 157.8 155.5 156.5 159.1 154.6 166.5 153.5 169.2 152.7 172 149.2 180.5 141.5 195 136.7 207 134.2 212 133 214 129.8 222 128.4 225 127 227.3 123.6 231.5 120.5 237.4 118.2 243 116.7 245.5 115.5 246.9 114.5 247.7 113.1 248.5 110.5 249.2 108 249.1 105 248.3 102 246.6 99.8 244.5 95.2 237.5 94.5 235.5 94.2 233.5 94.3 232 94.8 230 96.3 227 96.5 220.5 96.9 218.5 97.8 216.5 100 213.5 100.7 212 100.5 211 99.2 209 98.6 207 98.7 204.5 99.5 202.5 100.7 201 102.5 199.7 107.5 198.2 108.5 198.2 110.5 199.5 112.5 200.1 114 200.1 114.6 199.5 114.2 198.5 112.5 197.2 111 196.8 109 196.7 108.5 196.4 106 193.8 105 192.5 104 190.5 103.5 188 103.5 185.5 104 183.5 105.2 181 106.9 179 109 177.7 111 177.3 113 177.4 115 178.1 116.3 179 119 181.7 120.5 182.8 121.5 182.9 122 182.6 122.8 181.5 125.9 175 133.9 155.5 134 154.5 133.1 148.5 132.6 147 132 146.2 131 145.5 129.5 144.8 126.4 144 125 143.1 124 142.1 123 140.5 122.6 139 122.5 137 122.9 135.5 124 133.5 125.5 132.1 127.5 131.2 131 130.7 133.5 129.6 134.9 128.5 136 127 137 126 138.5 125.1 141.3 124 143.6 122 144.4 120.5 143.7 116.5 143.6 113 143.2 111 141.9 107.5 141.6 105.5 141.7 103 142.2 101 142.8 100 143.7 99 145 98.2 146 97.9 148 97.9 149 98.2 151 99.2 152 99.1 153.5 97.9 154 97.2 154.4 96 154.9 91.5 156.1 87 156 86 155.5 85.5 150.6 88 147.6 90 146 90.5 144.5 90.6 142.5 90.4 140.5 89.5 138.7 88 137.5 86.1 136.9 84 137 81.5 138 79 139.5 77.2 140 76.2 140.6 73 140.7 69.5 141.2 67.5 142.5 65.3 144.5 63.5 147 62.3 148.5 62 150 62 153 62.6 155.5 63.5 157.3 64.5 161 67 163 69.2 164.5 68.8 166 67.7 170.4 63.5 171.5 62.7 173.5 61.8 178 60.6 178.8 60 179.1 59 178.7 56 178 53.3 176.8 50.5 176.5 48.5 176.5 47 176.9 45.5 177.6 44 178.3 43 180 41.5 182.5 40.3 185 40.1Z" fill="#fee8c7" fill-rule="evenodd"/><path d="M187 42.5 188.5 43.4 190.5 45.2 193 47.9 194.8 51 195.6 53 196 54.5 196 56 195.8 57.5 194.7 60.5 193.3 62.5 190.5 64.8 190.1 65.5 190.2 66.5 191.3 68.5 192.9 72 193.5 74 193.6 77.5 193.2 79.5 192.7 81 188 90 184 98.5 180.6 104 177.5 107.9 175.2 113 170.8 120.5 170.5 121.5 169.7 127.5 169 129.5 167.3 132.5 164.3 137 162 143 157.5 150.9 155.4 155 154.5 157.5 153.5 164 151.7 170 150.3 174 147.3 180.5 145.7 183 143.4 186 138.6 195 135.4 203.5 131.9 211 129.7 219 128.3 222.5 125.5 226.7 120.8 231.5 118.5 235.5 115.7 242 115 243.3 114 244.5 112.5 245.7 110.5 246.4 108 246.5 106 246 103.5 244.5 100.3 241 98.6 238 97.3 234 97.5 232 98.3 230 98.4 229.5 97.6 224 97.6 221.5 97.9 219.5 99 216.9 103.3 211.5 103.8 210.5 103.7 210 102.5 208.6 101.9 207.5 101.7 206.5 101.8 205 102.2 204 103.1 203 104 202.4 105.5 202 109 202.7 113 204.2 114.5 204 116 203 118.1 199.5 120.8 192 122.5 188.8 123.8 185.5 127.5 177.4 129.7 171.5 131 168.6 131.9 166 133.5 162.4 136.2 155.5 136.4 154 135.5 149.5 135.4 146 135 143 135.3 142 136 141.6 136.5 141 136.6 140 136.2 138 135 135 135.1 134.5 135.6 133.5 138.5 129 146.1 123.5 147.2 122.5 147.9 121.5 148.1 119.5 147.2 116 146.8 112.5 146.1 110 145 107 144.9 105.5 145.2 104.5 146 103.3 147 102.7 148 102.5 150.5 102.8 152 102.3 154.3 100.5 155 99.4 155.3 98.5 155.7 92.5 157.4 85 157.3 84 157 83.6 156 83.8 153 85.7 151 86.6 145 88.2 143.5 88.1 141.9 87.5 140.7 86.5 139.7 85 139.3 83.5 139.4 82 140.7 78 142.1 70 142.7 68 143.5 66.5 144.4 65.5 145.5 64.6 147 63.9 148.5 63.6 150 63.6 152 63.8 153.5 64.2 156.2 65.5 158.3 67.5 159.6 70 160.6 73.5 161 74.1 161.5 74 163.1 72 168 67.1 170 65.5 173.5 63.6 179.5 62 180.3 61.5 180.6 61 180.5 59.5 178.5 49 178.5 47.5 178.8 46 180.1 44 182 42.6 183 42.2 184.5 42 186 42.2ZM127 135.6 128 134.9 129.5 134.6 132.5 135 133.4 135.5 132.9 138 133.4 140.5 133.1 141 129 141 128 140.7 127 140 126.4 139 126.1 138 126.4 136.5ZM108.5 180.8 110.5 180 112 179.9 113 180.1 115 181.1 117.2 183.5 118.6 186 118.9 188 118.4 190.5 117.8 191.5 116.9 192.5 115.5 193.2 114 193.6 112.5 193.7 110.5 193.6 108.5 192.9 107.5 192.2 106.5 191 105.9 190 105.4 188.5 105.2 187 105.4 185.5 105.8 184 106.5 182.7 107.5 181.6Z" fill="#fee2bb" fill-rule="evenodd"/><path d="M187.5 44.8 189 45.6 190.5 46.7 192.5 48.9 193.8 51.5 194.7 55 194.7 56.5 194.5 58 193.4 60.5 192 62.2 190.5 63.2 188.8 64 188.2 64.5 188.1 65 188.3 66 189.7 68 190.5 69.5 192.2 74.5 192.5 76.5 192.5 78 192.3 79.5 191.7 81 183.1 98.5 179.5 103.7 176.5 107.3 173.7 113 169.3 120 168.6 122 167.9 127 167.2 129 163.1 136.5 161.7 140.5 160.2 143.5 157.5 147.7 153.4 155 153.1 156.5 152.7 162 151.7 167 151.2 169 149.1 174.5 147.7 177.5 145.3 181.5 140.9 187 138 192.1 136.8 194.5 133.2 204 131 208.7 129.2 217.5 127.7 221.5 126.1 224 123.6 227 119.6 230.5 118.3 232 116.3 235.5 114.1 240.5 113 242 111.5 243.2 109.5 244 108 244.1 106.5 243.6 105 242.7 102.5 240 101.3 238.5 100.7 237 100.4 234.5 101 231.5 101 231 99.2 227 98.6 224 98.6 221.5 99.1 219 99.8 217.5 100.5 216.5 103 213.9 104.5 212.8 105.5 212.2 107 211.8 110 211.8 110.9 211.5 111.5 210 112.1 209 116 205.8 117 204.8 119.6 200.5 121.7 196 126 185 128.6 179 130.4 173 133.2 165.5 137.7 155.5 138.1 153 137.7 150 137.6 147 138.5 143.5 138.9 136.5 139.3 133.5 139.9 131 140.7 129.5 142 128 144 126.4 148.8 123.5 150.7 122 151.6 121 151.9 118.5 151.4 116.5 151.2 114 151.7 107 152.3 106 155.5 102.1 156 101.3 156.5 100 156.4 95.5 156.5 93 157.4 88 158.9 83 158.9 81.5 158.5 81 158 81 153.4 84.5 151.5 85.5 150 85.9 148 86.2 146.5 86.2 145 85.8 143.5 85.1 142.5 84.1 142 83.1 141.6 82 141.5 80.5 142 75 143.2 70 144 68.4 145 67 146 66.1 147 65.5 148.5 65 150.5 64.8 152 65 153.5 65.4 155 66.2 156 67 158 69.3 158.9 71 159.3 72.5 160 77.2 160.5 77.5 161 77.3 161.5 76.7 162.8 74 163.5 73 168.1 68 169.5 66.8 171 65.9 172.5 65.2 177.5 63.5 181 62.9 182.1 62.5 182.4 62 182.4 61.5 180.8 56 180.1 52 180.1 49.5 180.5 47.5 180.9 46.5 181.5 45.6 183 44.5 184 44.2 185 44.2ZM110 182.4 111 182.1 112 182.1 113.5 182.6 115 184 115.8 185.5 116.2 187.5 115.8 189 114.6 190.5 113 191.3 111 191.5 109.5 191.1 108.2 190 107.4 188.5 107.1 186.5 107.5 185 108.5 183.4Z" fill="#fdddae" fill-rule="evenodd"/><path d="M185 46.1 186 46 187.5 46.2 189 46.9 190 47.6 191 48.6 192 49.9 193.1 52.5 193.5 56.5 193 58.9 192.4 60 191.5 61.1 190.3 62 189 62.5 186.5 62.7 185.5 62.4 184.5 61.7 183.2 60 182.2 57.5 181.6 55.5 181.2 51.5 181.6 49 182.1 48 183 47 184 46.4ZM184 64.8 186.5 66.3 188.5 68.1 189.6 70 191.2 74 191.6 76.5 191.6 78.5 191.2 80 189.8 83.5 182.3 98.5 176 106.5 175.1 108 172.3 113.5 167.7 119.5 166.7 122.5 166.3 125.5 165.5 128.5 163 133.5 160.5 140.5 158.3 144.5 151.9 154 151.6 155.5 151.8 160.5 151.1 166 150.5 168.5 148.8 173.5 147.1 177 144.5 181 143 182.8 138.9 187 135.1 193.5 131.1 204 129.7 207 129.2 212 128.7 216 128.1 218.5 127.1 221 125.5 223.5 122.5 226.6 120.5 228.3 117.3 230.5 116.3 231.5 114.6 233.5 112 239 111.2 240 110.5 240.6 109.5 240.9 108.5 241 107.5 240.7 106 239.8 104.9 239 104 238 103.2 236.5 103 235 103.8 232.5 103.7 232 100.5 227.3 99.9 226 99.6 224.5 99.5 221.5 100.1 219 100.6 218 101.5 216.8 103 215.3 104.5 214.3 106.5 213.6 110.5 213.6 112 212.9 114.5 209 118.2 205.5 120.1 203.5 121.6 201 124.2 195.5 129.7 181 130.8 175 132.8 168.5 135.1 163 138.4 157 139.5 154 139.8 152.5 139.4 150 139.3 148 139.8 144.5 139.9 138 140.4 133.5 140.9 131.5 142.1 129.5 143.5 128.1 146 126.4 150 124.4 153.2 122.5 154.2 121.5 155.5 119.3 155.7 118 155.3 116 154.9 111.5 155.5 106.5 157 102.5 157.5 100.5 157.2 95 157.8 89 160.4 80.5 162 77.6 163.4 74.5 164.5 73 168.6 68.5 171 66.7 173.5 65.7 179 64.2 181.5 64.2ZM152 66.1 154 66.8 155.5 67.7 156.8 69 157.8 70.5 158.4 72 158.8 74 158.8 76 158.5 77.5 157.8 79 156.8 80.5 155 82.2 153 83.8 151.5 84.6 149.5 85.2 148 85.3 146.5 85 145 84.4 144 83.6 143.2 82.5 142.8 81.5 142.5 80 142.4 77 142.6 75 143.2 72.5 143.9 70.5 144.5 69.4 145.5 68.1 146.5 67.3 147.5 66.7 149 66.2 150.5 66ZM111 185.3 111.5 185.2 112.4 185.5 113 186.5 112.9 187.5 112.5 188.1 112 188.4 111 188.4 110.5 188.1 110 187.5 110 186.4 110.5 185.6Z" fill="#fdd7a2" fill-rule="evenodd"/><path d="M185 47.5 186 47.4 187 47.4 189 48.2 190 49 190.9 50 191.8 52 192.3 55 192.1 58 191.6 59 190.9 60 190 60.7 189 61.2 188 61.4 187 61.3 186 61 185.3 60.5 183.8 58.5 182.6 56 182.2 53.5 182.4 50.5 182.8 49.5 183.5 48.5ZM184 66 186 67.3 187.8 69 189.3 71.5 190.5 74 190.9 76 190.8 78 189.6 82.5 184 94 181.5 98.5 178.5 102 174.8 107 172.7 111 171 113.7 169 116.1 166.7 118 165.9 119 164.4 123 164.4 125.5 164 127.5 162 132.1 159.2 141 157 145 150.3 153 150 154 150 155 150.7 159.5 150.6 164 150.3 166.5 149.7 169 147.7 174.5 146.7 176.5 145.5 178.3 143.4 181 142 182.4 136.7 186.5 135.4 188 134 190.4 132.2 193 131.5 195.1 130.2 197.5 129.5 201 128.3 203.5 127.7 205.5 128.3 210.5 128.1 214.5 127.6 217.5 126.8 220 125.5 222.2 124 224 121.5 226.2 118.5 228.2 112.5 230.8 108 231.4 107 231.3 105.5 230.8 104 229.8 102.7 228.5 101.5 226.8 100.7 225 100.4 223.5 100.4 221.5 100.7 220 101.3 218.5 103 216.6 105 215.3 107.5 214.8 110.5 214.9 111.5 214.6 112.5 213.9 113.3 213 115.3 210 116.5 208.6 118.5 206.8 123 203.5 124.3 201.5 125.2 199.5 127.2 196 128 193 129 191 129.5 188 130.3 186 131.1 183 131.6 176.5 133.2 169.5 135.9 163 139.9 156.5 141.2 154 141.5 153 141.5 152 140.9 149 140.6 140 141.1 134 141.9 131.5 143 129.8 145 128.1 147.5 126.7 150.5 125.5 155.6 123 158 121 158.2 120.5 158.2 116.5 156.9 112.5 156.6 110.5 156.8 107 158.2 101 158 95.5 158.1 90.5 158.9 87 161.3 80.5 164 74.8 164.9 73.5 169 69 171 67.5 174 66.3 179.5 65.1 181.5 65.2ZM152.5 67.1 154 67.7 155.2 68.5 156.3 69.5 157.3 71 157.8 72.5 158.1 74 158 76 157.6 77.5 156.9 79 156 80.2 154.1 82 152.5 83.2 151 83.9 149.5 84.3 148 84.3 146.5 84 145.5 83.5 144.5 82.5 143.9 81.5 143.4 80 143.1 78 143.1 76 143.5 74 144 72.2 144.7 70.5 145.4 69.5 146.4 68.5 147.5 67.8 148.5 67.3 150 67Z" fill="#fdd296" fill-rule="evenodd"/><path d="M186 48.8 187.5 48.9 189 49.7 190.1 51 190.9 53 191.1 55.5 190.7 57.5 189.7 59 188.5 59.7 187 59.6 185.5 58.7 184.2 57 183.4 55 183.3 52.5 183.8 50.5 184.6 49.5ZM183.5 66.8 185.5 68.1 187.5 70.3 189 72.5 189.9 74.5 190.2 76 190.1 78 189.2 81.5 188.5 83.5 186.2 88.5 182.5 95.6 180.3 99 177.7 102 173.9 107 172.5 109.7 171 112.1 168.5 115 167 116.2 163.5 117.7 162.5 117.9 162 117.8 161.5 117.3 158.6 113 157.8 111 157.7 109.5 157.9 106.5 158.9 101.5 158.7 92 158.8 90 159.3 87.5 161.3 82 163.2 77.5 164.9 74.5 167 72 170.5 68.6 173.5 67.1 177 66.4 180.5 66.1 182 66.3ZM152 67.8 153.5 68.2 154.5 68.8 155.5 69.7 156.5 71 157 72.1 157.4 73.5 157.5 75 157.2 76.5 156.6 78 156 79 154.5 80.6 152.5 82.2 151.1 83 150 83.3 148.5 83.5 147.5 83.3 146.5 82.9 145.4 82 144.7 81 144.1 79.5 143.8 78 143.7 76.5 144.2 73.5 145.5 70.6 147 69 148 68.4 149.5 67.8 150.5 67.7ZM161 124.5 161.5 125 161.7 125.5 161.7 126.5 161.2 128 160.7 132 159.9 136 158.9 139.5 157.9 142 156.8 144 155 146.3 151.5 149.4 148.2 152 147.6 153 147.5 154 148.8 157 149.4 159.5 149.8 164.5 149.6 166.5 149.2 168.5 147 174.5 146 176.4 144.5 178.4 141 181.9 139 183.2 137 184 135.5 184.3 134.5 184 133.9 183.5 133.3 182.5 132.7 180.5 132.5 178.5 133 173.5 133.7 170 136.1 164 137.2 162 138.5 160.1 143.3 154.5 143.9 153 143.7 151.5 142.9 150 142.6 149 141.7 144.5 141.5 141.5 141.4 138 141.9 133.5 142.4 132 143.4 130.5 144.5 129.5 146.5 128.2 148.5 127.3 154 125.3 156 125 158.5 124.9 160 124.4ZM125.5 206.8 126.5 208.4 127 210 127.3 214 127.2 216 126.8 218 126 220 125 221.7 123.5 223.5 121 225.4 118.5 226.8 117 227.3 114.5 227.6 109.5 229.4 108 229.6 106 229.4 104.5 228.6 103.5 227.7 102 225.5 101.5 224.2 101.3 223 101.3 221.5 101.7 220 102.2 219 103 217.9 104.5 216.8 106 216.2 108 215.9 110.5 215.9 112 215.4 113.5 214.2 115.3 211.5 117 209.5 118.7 208 120.5 206.9 122 206.3 123.5 206 124.5 206.1Z" fill="#fdcc8a" fill-rule="evenodd"/><path d="M186.5 50.6 187.5 50.7 188.5 51.3 189.3 52.5 189.7 53.5 189.7 55 189.5 56 188.9 57 188 57.5 187 57.5 186 57 185 55.7 184.6 54.5 184.6 53 184.9 52 185.5 51.1ZM183 67.6 184.5 68.5 186.6 70.5 188.2 72.5 189.2 74.5 189.5 76 189.5 77.5 188.7 81 187.8 83.5 185.8 88 182.2 95 179.6 99 173.5 106.5 170.5 111.3 167.5 114.3 166 115.3 165 115.7 164 115.7 162.5 115.4 161 114.3 159.7 112.5 159 110.5 158.7 108 158.8 106 159.6 101.5 159.3 96.5 159.3 90 160.1 86.5 161.3 83 163.8 77.5 165.6 74.5 168 71.7 171.1 69 173.5 67.7 176 67.1 180.5 67.1ZM152.5 68.6 154 69.3 154.9 70 155.7 71 156.3 72 156.6 73 156.8 74.5 156.7 76 156.4 77 155.5 78.5 154.6 79.5 152 81.5 150.5 82.3 149.5 82.5 148.5 82.5 147.5 82.2 146.5 81.6 145.9 81 145.2 80 144.6 78.5 144.4 76 145 73.2 146.5 70.5 148 69.2 150 68.5 151.5 68.4ZM157.5 127.2 158.5 127.9 159.2 129 159.6 130.5 159.7 132 158.6 138 157.8 140.5 156.9 142.5 154.8 145.5 153.5 146.7 152 147.7 149.5 149.1 148 149.7 146.5 149.8 145.5 149.4 144.5 148.7 143.7 147.5 142.8 145 142.4 143 142.1 139 142.1 136.5 142.4 134 143.2 132 144 130.9 145 130 147 128.8 148.5 128.2 154 126.7 155.5 126.7ZM146 156.6 147 157.3 148 159.1 148.7 161.5 149.1 164 148.8 167.5 147 173 145.5 176 144 177.9 142.5 179.4 140.4 181 139 181.8 137.5 182.2 136 182.1 135 181.6 134.5 180.9 133.9 179.5 133.6 178 133.7 173 134.1 171 134.7 169 137.1 163.5 139 160.7 141 158.6 143 157.1 144.5 156.5ZM125 208.9 125.8 210.5 126.3 212.5 126.5 214.5 126.4 216.5 125.9 218.5 125 220.5 124 221.9 122.5 223.3 121 224.4 119.5 225.1 117.5 225.7 115 226 109 228.2 107.5 228.3 106 228 105 227.5 103.9 226.5 102.8 224.5 102.3 222.5 102.5 221 102.8 220 104 218.4 106 217.3 108 217 110.5 216.9 111.5 216.7 112.5 216.2 114 214.8 115.5 212.5 117 210.8 119 209.1 120.5 208.2 122 207.8 123 207.7 124 208.1Z" fill="#fdc282" fill-rule="evenodd"/><path d="M182.5 68.3 184 69.1 186 70.9 187.7 73 188.5 74.5 188.8 76 188.8 77.5 188.3 80.5 187.4 83 185.3 88 183.5 91 181.9 94.5 178.9 99 172.6 106.5 170.1 110.5 168.5 112.1 166 113.8 164.5 114.3 163 114 162 113.4 160.9 112 160 109.5 159.6 107.5 159.7 105.5 160.2 102 159.8 97 159.7 91 160.5 87 161.6 83.5 164 78 166.3 74.5 168.5 71.9 171.5 69.4 173.5 68.2 176 67.6 179 67.6ZM152 69.2 153 69.5 154 70.1 154.9 71 155.6 72 156.1 74 156.1 75.5 155.8 76.5 154.6 78.5 152.5 80.3 150 81.4 149 81.5 148 81.3 146.5 80.3 145.4 78.5 145 76.5 145.4 74 146.6 71.5 148 70 150 69.2ZM156.5 128.3 157.5 129 158.2 130 158.5 131 158.7 132.5 158.2 137 157.6 139.5 156.7 141.5 154.7 144.5 153.8 145.5 152.5 146.5 150 147.7 148.5 148.1 147 148.2 146 147.8 145 147 144 145.6 143.2 143 142.7 137 143 134.4 143.7 132.5 144.4 131.5 145.5 130.5 148.5 128.9 154 127.8 155 127.9ZM145.5 158.6 146.5 159.4 147.5 160.8 148.1 162.5 148.4 164.5 148.1 167.5 147.5 170 146.5 172.7 145 175.7 143.9 177 142.5 178.3 140.5 179.6 138.5 180.5 137.5 180.6 136.5 180.3 135.6 179.5 135.1 178.5 134.4 174.5 134.6 171.5 136 167.5 138.1 163 140 160.8 141.5 159.5 143 158.7 144.5 158.4ZM124.5 210.8 125.1 212 125.7 214 125.8 215.5 125.6 217 125 219 124.2 220.5 123.4 221.5 122 222.8 119.5 224 118 224.3 115.5 224.3 108.5 226.9 107 226.9 106 226.5 104.5 225.2 103.8 223.5 103.7 222 104 220.5 104.5 219.7 105.3 219 107 218.3 111 218 112.5 217.4 114.1 216 117 211.9 118.5 210.6 120 209.8 121.5 209.3 122.5 209.4 123.5 209.8Z" fill="#fdb97b" fill-rule="evenodd"/><path d="M182.5 69.1 184.5 70.3 186.2 72 187.6 74 188.2 76 188.2 78.5 187.6 81 184.9 87.5 183 91 181.9 93.5 178.7 98.5 174.5 103.5 171.7 106.5 169.4 110 168 111.3 166.5 112.1 165 112.6 163.5 112.5 162.5 111.8 161.5 110.3 160.7 108.5 160.5 107 160.9 102 160.3 97 160.1 91.5 161.1 86.5 162.1 83.5 164.6 78 167.3 74 169 72 172 69.6 174 68.5 176.5 68 179.5 68.2ZM152 70 153 70.3 153.9 71 155 72.5 155.5 74.5 155.1 76.5 153.6 78.5 152 79.7 150 80.5 149 80.5 148 80.2 147 79.5 146.6 79 145.9 77.5 145.8 75.5 146.3 73.5 147.5 71.5 148.6 70.5 150.5 69.9ZM155.5 129.2 156.5 129.8 157.1 130.5 157.6 132 157.9 133.5 157.6 137 157.1 139 156.3 141 154 144.3 152 145.8 150.5 146.5 149 146.8 147.5 146.8 146.5 146.5 145.5 145.8 144.8 145 144.3 144 143.8 142.5 143.4 139.5 143.3 137 143.6 134.5 144.1 133 144.8 132 145.8 131 148.5 129.5 150 129.2 153 128.8ZM145 160 146 160.7 146.7 161.5 147.3 163 147.7 165 147.6 166.5 147.2 168.5 146.1 172 144.5 175.2 142.5 177.4 141 178.3 139.5 178.8 138.5 178.9 137.5 178.7 136.5 178 136 177.2 135.4 175.5 135.1 174 135.3 171.5 136.4 168 138.6 163.5 140 161.8 142.5 160.1 144 159.8ZM124 212.1 124.5 213.1 124.9 214.5 125 216 124.7 217.5 124.2 219 123.5 220.2 122.5 221.3 121.5 222.1 120.5 222.7 119 223.1 118 223.1 116 222.7 114.5 222.8 112 224 108.5 225.3 107 225.2 106 224.5 105.4 223.5 105.2 222 105.5 220.9 106.4 220 108 219.4 111.5 219.4 112.5 219.1 114.5 217.1 117.1 213 118.1 212 119.5 211.1 121 210.7 122 210.7 123 211.1Z" fill="#fdaf73" fill-rule="evenodd"/><path d="M182.5 69.7 184 70.6 185.6 72 187 74 187.7 76 187.7 78.5 187.3 80.5 184.5 87.3 181.1 94 178.4 98 176.5 100.5 174 103.3 171.2 106 168 110 167 110.7 166 111.1 165 111.2 164 111 162.5 109.8 162 109 161.5 107.5 161.3 106 161.5 102 160.8 98 160.6 92 160.8 90 161.8 85.5 164.6 79 165.5 77.3 169 72.6 171 70.9 173.5 69.2 175.5 68.6 177.5 68.5 180 68.9ZM151.5 70.7 153 71.3 154.2 72.5 154.7 74 154.5 75.8 153.5 77.5 152 78.8 151 79.3 150 79.5 148.5 79.3 147.4 78.5 146.7 77 146.6 75.5 147 74 148 72.2 149 71.2 150 70.8ZM154.5 130 155.5 130.6 156.4 131.5 157.1 133.5 157.2 135 157 137 156.5 139 155.9 140.5 154 143.3 153 144.3 152 144.9 149.5 145.8 148 145.8 147 145.5 146 144.8 145 143.5 144.2 140.5 143.9 137 144.1 135 144.6 133.5 145.2 132.5 146.1 131.5 148.5 130.1 151.5 129.6 153 129.7ZM144.5 161.2 145.5 161.8 146 162.5 146.5 163.5 146.9 165 146.7 168 145.7 171.5 144.1 174.5 142.4 176.5 141 177.3 140 177.6 139 177.7 138 177.4 137.3 177 136.5 176 135.9 174 136 171.7 137.1 168 139 164.3 140.4 162.5 142.5 161.2 143.5 161ZM122 212.1 123.2 213 123.7 214 124 215 124 217 123.5 218.5 123 219.5 121.5 221 119.5 221.9 118 221.9 116.2 221 115.2 220 115.1 219 116.2 216 117 214.5 118 213.3 119.5 212.3 121 211.9Z" fill="#fca56c" fill-rule="evenodd"/><path d="M182.5 70.3 184.4 71.5 185.8 73 186.9 75 187.2 76.5 187.2 78.5 186.9 80.5 184.2 87 180.6 94 178.3 97.5 176.3 100 173.5 103.1 170.1 106 167.5 109 166 109.8 165 109.8 164 109.5 163 108.5 162.4 107 162.3 102.5 161.3 98 161 92 161.2 90 162.2 85.5 165 79 165.9 77.5 169.2 73 171 71.4 173.5 69.7 175.5 69 177.5 68.9 180 69.4ZM151.5 71.6 152.5 72 153.4 73 153.8 74 153.6 75.5 152.7 77 151.5 78 150 78.4 149 78.3 148 77.5 147.6 76.5 147.5 75.5 147.9 74 148.5 73 149.5 72 150.5 71.6ZM153.5 130.5 154.5 131 155.2 131.5 156 132.5 156.4 133.5 156.6 135 156.5 136.5 155.8 139.5 154.2 142 153 143.3 152 144 150.9 144.5 149.5 144.8 148.5 144.8 147.5 144.6 146.5 143.9 145.8 143 144.7 140 144.4 137 144.6 135.5 145 134 145.6 133 146.4 132 148.5 130.8 151 130.3ZM144 162.4 144.5 162.6 145.3 163.5 145.8 164.5 146.1 165.5 145.9 168 145.2 171 143.5 174.1 142 175.7 141 176.3 140 176.6 138.5 176.4 137.5 175.5 136.9 174.5 136.7 173.5 136.7 172 137.6 168.5 138.6 166.5 140.6 163.5 141.5 162.8 142.5 162.4ZM121.5 213.5 122.5 214.4 122.9 215.5 122.9 217 122.5 218.3 121.7 219.5 120.5 220.4 119.5 220.7 118.2 220.5 117.5 220 116.8 218.5 116.9 217 117.3 216 118 214.8 119 213.9 120.5 213.3Z" fill="#fc9c64" fill-rule="evenodd"/><path d="M182 70.6 183.6 71.5 185.1 73 186.3 75 186.7 76.5 186.8 78.5 186.5 80.1 184 86.4 180.1 94 176.5 99.2 173 102.9 169.4 105.5 167.5 107.3 166 108.2 165 108.2 164.1 107.5 163.7 106.5 163.1 103 162 99.4 161.7 97.5 161.4 92 161.5 90.5 162.5 86 165.2 79.5 166 78 169.3 73.5 171 71.9 173.5 70.2 175 69.6 177 69.3 179.5 69.7ZM151.5 73 152 73.3 152.4 74 152.5 74.5 152.3 75.5 151.5 76.5 151 76.8 150 77 149.5 76.8 148.9 76 149 74.5 150 73.3 150.5 73ZM153.5 131.3 154.5 131.9 155.1 132.5 155.6 133.5 155.9 134.5 155.9 137 155.2 139.5 153.9 141.5 152 143.1 150 143.8 149 143.9 148 143.7 147 143.1 146.5 142.5 145.9 141.5 145.3 139.5 145.1 136.5 145.3 135 145.7 134 147 132.3 149 131.2 151.5 131ZM143.5 163.8 144.5 164.5 145 166 145 168.5 144.5 170.7 143.5 172.6 141.9 174.5 140.5 175.3 139 175.2 138 174.1 137.7 173 137.9 170.5 138.4 168.5 139.5 166.5 141 164.6 142.5 163.7ZM120.5 215.3 121 215.5 121.3 216 121.4 216.5 121.2 217.5 120.5 218.5 119.5 218.8 119 218.7 118.4 218 118.4 217.5 118.6 216.5 119.5 215.5Z" fill="#fc925d" fill-rule="evenodd"/><path d="M181.5 70.9 183.5 72 184.9 73.5 185.8 75 186.3 77 186.3 78.5 186.1 80 183.8 86 179.4 94.5 177.3 97.5 176 99.1 173 102.1 171.5 103.3 167 105.9 166 106.1 165.5 105.9 164.7 105 162.5 99.3 162 95.5 161.8 92 161.9 90.5 162.8 86 165.6 79.5 166.5 78 169.5 73.8 171.5 72 173.5 70.7 175 70 177 69.8 179.5 70.2ZM152 131.7 153 131.9 154 132.5 155 134 155.3 136 154.9 138.5 154 140.4 152.5 141.9 151.5 142.5 150.5 142.9 149.5 143 148.5 142.8 147.5 142.3 147 141.8 146 139.8 145.6 137.5 146 135 147 133.2 148.5 132.1 150 131.6ZM143 165.7 143.7 166.5 144 167.5 144 169 143.6 170.5 143 171.6 142 172.7 141 173.5 140 173.7 139.5 173.4 139 172.5 138.9 170.5 139.2 169 139.9 167.5 141 166.3 142 165.7Z" fill="#fa8856" fill-rule="evenodd"/><path d="M181 71.2 183 72.3 184.3 73.5 185.2 75 185.8 77 185.9 78.5 185.6 80 183.4 86 179 94.4 176 98.5 172.3 102 170.5 103.2 168 104.1 167 104.2 166 103.9 164.5 102.2 163 99.2 162.4 95.5 162.2 92.5 162.3 90.5 163.1 86.5 165.8 80 166.9 78 169.5 74.4 171 72.9 173 71.4 175 70.5 176.5 70.2 179 70.5ZM151.5 132.3 153 132.8 154.2 134 154.5 135 154.7 136 154.5 138 153.5 140 152.5 141.1 151 141.9 150 142 149 142 148 141.5 147.5 141 146.7 139.5 146.3 137.5 146.5 135.5 147.2 134 148.5 132.8 150 132.3ZM142 168.4 142.3 169 142.1 170 141.5 170.7 141 170.8 140.6 170 140.9 169 141.5 168.4Z" fill="#f67e50" fill-rule="evenodd"/><path d="M181 71.6 182.5 72.5 184.1 74 184.8 75.5 185.4 77.5 185.4 79 185.1 80.5 183 86 178.8 94 176.8 97 175.5 98.5 172 101.5 170.5 102.5 168.5 103.1 167.5 103.1 166.5 102.8 165 101.6 164 100.1 163.5 99 162.8 95 162.5 92.5 162.6 91 163.3 87 166 80.4 167.3 78 169.8 74.5 171.5 73 173 71.9 175 71 176.5 70.7 179 71ZM150.5 133 152 133.3 153.1 134 153.8 135.5 154 137 153.5 138.7 152.6 140 151.5 140.8 150 141.1 148.5 140.6 147.5 139.5 147 138 147 136.5 147.4 135 148 134.2 149 133.4Z" fill="#f2734a" fill-rule="evenodd"/><path d="M180.5 71.9 182 72.7 183.4 74 184.2 75.5 184.8 77.5 184.9 79 184.7 80.5 182.6 86 178.7 93.5 175.5 97.9 170.5 101.8 168.5 102.3 167 102.1 165.5 101 164.6 100 164.1 99 162.9 93 162.9 91 163.5 87.5 164.1 85.5 165.8 81.5 167.1 79 169.5 75.5 170.8 74 172.5 72.7 174.5 71.6 176 71.2 178.5 71.3ZM150.5 134 151.5 134.2 152.5 134.9 153 135.8 153.1 137 152.9 138 152.4 139 151.5 139.8 150.5 140.1 149.5 140 148.5 139.2 148 138.2 147.8 137 147.9 136 148.5 134.9 149.5 134.2Z" fill="#ef6945" fill-rule="evenodd"/><path d="M180.5 72.4 182 73.3 183 74.5 183.8 76 184.4 78 184.4 79 184.2 80.5 182.2 86 178.5 93.1 175.3 97.5 170 101.2 168.5 101.5 167 101.2 165.9 100.5 164.8 99 163.5 94.5 163.2 92.5 163.4 90 163.9 87.5 164.5 85.5 166.2 81.5 167.5 79 169.5 76.1 170.8 74.5 172.5 73.1 174.5 72.1 176.5 71.7 178.5 71.8ZM150 135.5 151 135.5 151.5 135.8 152 137 151.5 138.3 150.5 138.8 149.7 138.5 149 137.5 149 136.5 149.5 135.8Z" fill="#eb5f3f" fill-rule="evenodd"/><path d="M180 72.7 181.4 73.5 182.5 74.7 183.4 76.5 183.9 78.5 183.8 80.5 181.8 86 178.2 93 175 97.2 174 98 169.8 100.5 168.5 100.8 167.2 100.5 166 99.6 165.3 98.5 164 94.8 163.6 92.5 163.8 90 164.2 87.5 164.9 85.5 166.5 81.6 167.6 79.5 169.5 76.6 171 74.8 172.5 73.6 174 72.8 176 72.3 178 72.2Z" fill="#e75439" fill-rule="evenodd"/><path d="M180 73.2 181.2 74 182.4 75.5 183.1 77 183.4 78.5 183.3 80.5 181.4 86 179.7 89 178 92.6 174.6 97 172.5 98.4 169.5 99.8 168.5 99.9 167.5 99.7 166.5 99 166 98.2 164.5 94.9 164 92.5 164.1 90 164.6 87.5 165 86 166.7 82 167.9 79.5 169.5 77.2 171 75.3 172.5 74 174 73.2 176 72.8 178 72.7Z" fill="#e34a33" fill-rule="evenodd"/><path d="M179.5 73.6 180.5 74.2 181.8 75.5 182.5 77 182.9 78.5 182.9 80.5 181.1 86 179.3 89 177.6 92.5 174.4 96.5 173 97.6 171 98.5 169 99 168 98.9 167 98.3 165.5 96 164.6 94 164.4 92.5 164.5 90 164.9 87.5 165.5 85.6 168 80 169.5 77.8 171.3 75.5 172.5 74.5 174 73.7 175.5 73.3 178 73.2Z" fill="#dc3f2b" fill-rule="evenodd"/><path d="M179.5 74.2 180.5 74.9 181.5 76 182 77 182.4 78.5 182.3 80.5 180.6 86 178.8 89 177.1 92.5 174 96.2 173 97 171 97.9 169.5 98.2 168 97.9 166.5 96.6 165.5 95 165 93.5 164.8 92 164.9 89.5 165.4 87 168.1 80.5 170.6 77 172 75.4 173.2 74.5 174.5 74 176 73.7 178 73.7Z" fill="#d43323" fill-rule="evenodd"/><path d="M179 74.6 180 75.1 181 76.2 181.5 77 181.9 78.5 181.9 80 180.4 85.5 178.3 89 177 92 173.5 96 172 97 170.5 97.4 169 97.4 168 97.1 167 96.3 165.8 94.5 165.3 93 165.3 90.5 165.5 88.1 165.9 86.5 168.5 80.5 169.5 78.9 172 76 173.5 74.8 174.5 74.4 176 74.2 177.5 74.2Z" fill="#cd281b" fill-rule="evenodd"/><path d="M179 75.2 180 75.8 180.6 76.5 181.1 77.5 181.4 78.5 181.3 80 180 85.5 178 88.5 176.5 91.9 173.2 95.5 172 96.3 171 96.7 169.5 96.8 168.5 96.5 167 95.5 166.1 94 165.8 92.5 165.7 90 166.1 87 168.6 81 169.2 80 170.5 78.3 172.5 76.1 173.5 75.4 174.5 74.9 176 74.6 177.5 74.7Z" fill="#c51c14" fill-rule="evenodd"/><path d="M178.5 75.6 180 76.7 180.5 77.5 180.8 78.5 180.8 79.5 179.8 84.5 179.4 85.5 177.4 88.5 176.2 91.5 172.8 95 172 95.7 171 96.1 169.5 96.2 168.5 95.8 167.4 95 166.5 93.5 166.2 89 166.5 87 169 81 170.5 78.9 173 76.4 174 75.6 175 75.3 176 75.1 177.5 75.3Z" fill="#be110c" fill-rule="evenodd"/><path d="M178 76 179.4 77 180.1 78.5 180.1 79.5 179.1 85 177 88.1 176 90.8 175.1 92 171.5 95.2 170.5 95.6 169 95.4 168 94.7 167.1 93.5 166.7 89 167 87 168.3 84 169.4 81 171 79 174 76.3 175 75.8 176 75.7Z" fill="#b70604" fill-rule="evenodd"/></g></g>
<use href="#plines"/>
<use href="#site" fill="none" stroke="#141414" stroke-width="0.75"/>
<path d="M178.6 84.3 L178.6 84.8 L178.4 85.3 L178.2 85.8 L178.0 86.2 L177.6 86.6 L177.2 87.0 L176.8 87.2 L176.3 87.4 L175.8 87.6 L175.3 87.6 L174.8 87.6 L174.3 87.4 L173.8 87.2 L173.4 87.0 L173.0 86.6 L172.6 86.2 L172.4 85.8 L172.2 85.3 L172.0 84.8 L172.0 84.3 L172.0 83.8 L172.2 83.3 L172.4 82.8 L172.6 82.4 L173.0 82.0 L173.4 81.6 L173.8 81.4 L174.3 81.2 L174.8 81.0 L175.3 81.0 L175.8 81.0 L176.3 81.2 L176.8 81.4 L177.2 81.6 L177.6 82.0 L178.0 82.4 L178.2 82.8 L178.4 83.3 L178.6 83.8 Z" fill="none" stroke="#0a0a0a" stroke-width="1.35" stroke-dasharray="5.8 1"/>
<path d="M167.7 109.0 L167.7 109.4 L167.6 109.8 L167.4 110.1 L167.2 110.5 L167.0 110.8 L166.7 111.0 L166.3 111.2 L166.0 111.4 L165.6 111.5 L165.2 111.5 L164.8 111.5 L164.4 111.4 L164.1 111.2 L163.7 111.0 L163.4 110.8 L163.2 110.5 L163.0 110.1 L162.8 109.8 L162.7 109.4 L162.7 109.0 L162.7 108.6 L162.8 108.2 L163.0 107.9 L163.2 107.5 L163.4 107.2 L163.7 107.0 L164.1 106.8 L164.4 106.6 L164.8 106.5 L165.2 106.5 L165.6 106.5 L166.0 106.6 L166.3 106.8 L166.7 107.0 L167.0 107.2 L167.2 107.5 L167.4 107.9 L167.6 108.2 L167.7 108.6 Z" fill="none" stroke="#0a0a0a" stroke-width="1.35" stroke-dasharray="5.8 1"/>
</g>
<g transform="translate(-0.8 280)">
<rect x="194.7" y="110.6" width="112.2" height="135" fill="#fff" stroke="#222" stroke-width="0.7"/>
<text class="lg" x="199" y="123.8">Legend</text>
<rect x="198.8" y="133.6" width="14.9" height="7.8" fill="#fff" stroke="#222" stroke-width="0.6"/>
<text class="li" x="217.3" y="140.3">Study site</text>
<line x1="198.8" y1="149.5" x2="212.8" y2="149.5" stroke="#4a4a4a" stroke-width="0.8"/>
<text class="li" x="217.3" y="152.5">Power lines</text>
<rect x="198.7" y="157.8" width="14.7" height="8.3" fill="#fff" stroke="#111" stroke-width="1.4" stroke-dasharray="6.2 1.47"/>
<text class="li" x="217.3" y="164.9">Electrocution hotspots</text>
<text class="li" x="198.8" y="176.9">Population heatmap</text>
<rect x="198.8" y="184.3" width="14.9" height="7.9" fill="#fef0d9"/>
<text class="li" x="217.3" y="191.3">0</text>
<rect x="198.8" y="196.7" width="14.9" height="7.9" fill="#fdcc8a"/>
<text class="li" x="217.3" y="203.7">5.71</text>
<rect x="198.8" y="209.1" width="14.9" height="7.9" fill="#fc8d59"/>
<text class="li" x="217.3" y="216.1">11.4</text>
<rect x="198.8" y="221.5" width="14.9" height="7.9" fill="#e34a33"/>
<text class="li" x="217.3" y="228.5">17.1</text>
<rect x="198.8" y="233.9" width="14.9" height="7.9" fill="#b30000"/>
<text class="li" x="217.3" y="240.9">22.8</text>
</g>
</g>
<rect x="0" y="0" width="685" height="1" fill="#6b6b6b"/><rect x="0" y="0" width="1" height="587" fill="#444"/><rect x="683.7" y="0" width="1.3" height="587" fill="#3a3a3a"/><rect x="0" y="585.7" width="685" height="1.3" fill="#3a3a3a"/>
</svg></body></html>
